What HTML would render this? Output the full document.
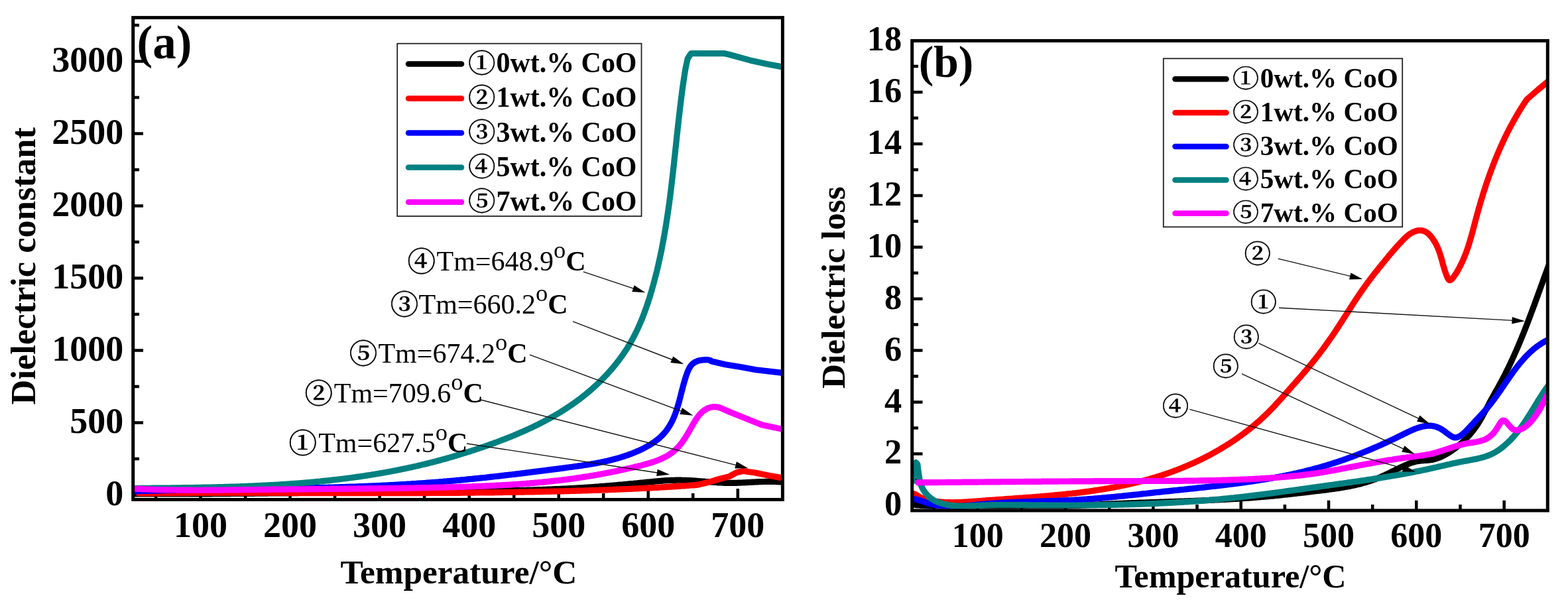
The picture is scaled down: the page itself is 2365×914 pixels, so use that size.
<!DOCTYPE html>
<html><head><meta charset="utf-8"><title>Dielectric properties</title>
<style>html,body{margin:0;padding:0;background:#fff;}svg{display:block;}</style>
</head><body>
<svg width="2365" height="914" viewBox="0 0 2365 914">
<rect width="2365" height="914" fill="#fff"/>
<path d="M203 746.5H216.0 M203 692.0H210.0 M203 637.5H216.0 M203 583.0H210.0 M203 528.5H216.0 M203 474.0H210.0 M203 419.5H216.0 M203 364.9H210.0 M203 310.4H216.0 M203 255.9H210.0 M203 201.4H216.0 M203 146.9H210.0 M203 92.4H216.0 M203 37.9H210.0 M235.1 751.5V744.0 M302.6 751.5V737.0 M370.1 751.5V744.0 M437.6 751.5V737.0 M505.1 751.5V744.0 M572.6 751.5V737.0 M640.1 751.5V744.0 M707.7 751.5V737.0 M775.2 751.5V744.0 M842.7 751.5V737.0 M910.2 751.5V744.0 M977.7 751.5V737.0 M1045.2 751.5V744.0 M1112.8 751.5V737.0" stroke="#000" stroke-width="4.5" fill="none"/>
<path d="M1378 762.3H1391.5 M1378 723.3H1385.0 M1378 684.4H1391.5 M1378 645.4H1385.0 M1378 606.5H1391.5 M1378 567.5H1385.0 M1378 528.6H1391.5 M1378 489.6H1385.0 M1378 450.7H1391.5 M1378 411.7H1385.0 M1378 372.8H1391.5 M1378 333.8H1385.0 M1378 294.9H1391.5 M1378 255.9H1385.0 M1378 217.0H1391.5 M1378 178.0H1385.0 M1378 139.1H1391.5 M1378 100.1H1385.0 M1408.6 768V761.0 M1474.7 768V754.8 M1540.9 768V761.0 M1607.1 768V754.8 M1673.2 768V761.0 M1739.4 768V754.8 M1805.5 768V761.0 M1871.7 768V754.8 M1937.9 768V761.0 M2004.0 768V754.8 M2070.2 768V761.0 M2136.3 768V754.8 M2202.5 768V761.0 M2268.7 768V754.8" stroke="#000" stroke-width="4.5" fill="none"/>
<g clip-path="url(#clipL)" fill="none" stroke-width="9.2" stroke-linejoin="round" stroke-linecap="round">
<path d="M201.0 745.0 203.0 745.0 205.0 745.0 207.0 745.0 209.0 745.0 211.0 745.0 213.0 745.0 215.0 745.0 217.0 745.0 219.0 745.0 221.0 745.0 223.0 745.0 225.1 745.0 227.1 745.0 229.1 745.0 231.1 745.0 233.1 745.0 235.1 745.0 237.1 745.0 239.1 745.0 241.1 745.0 243.1 745.0 245.1 745.0 247.1 745.0 249.1 745.0 251.1 745.0 253.1 745.0 255.1 745.0 257.1 745.0 259.1 745.0 261.1 745.0 263.1 745.0 265.1 745.0 267.1 745.0 269.1 745.0 271.1 745.0 273.1 745.0 275.1 745.0 277.1 745.0 279.2 745.0 281.2 744.9 283.2 744.9 285.2 744.9 287.2 744.9 289.2 744.9 291.2 744.9 293.2 744.9 295.2 744.9 297.2 744.9 299.2 744.9 300.1 744.9 301.2 744.9 303.2 744.8 305.2 744.8 307.2 744.8 309.2 744.8 311.2 744.8 313.2 744.8 315.2 744.8 317.2 744.8 319.2 744.8 321.2 744.7 323.2 744.7 325.2 744.7 327.2 744.7 329.2 744.7 331.2 744.7 333.2 744.7 335.2 744.7 337.2 744.6 339.2 744.6 341.2 744.6 343.2 744.6 345.2 744.6 347.3 744.6 349.3 744.5 351.3 744.5 353.3 744.5 355.3 744.5 357.3 744.5 359.3 744.5 361.3 744.5 363.3 744.4 365.3 744.4 367.3 744.4 369.3 744.4 371.3 744.4 373.3 744.3 375.3 744.3 377.3 744.3 379.3 744.3 381.3 744.3 383.3 744.3 385.3 744.2 387.3 744.2 389.3 744.2 391.3 744.2 393.3 744.2 395.3 744.1 397.3 744.1 399.3 744.1 400.1 744.1 401.3 744.1 403.3 744.1 405.3 744.0 407.3 744.0 409.3 744.0 411.3 744.0 413.3 744.0 415.3 743.9 417.3 743.9 419.3 743.9 421.3 743.9 423.3 743.9 425.3 743.8 427.3 743.8 429.3 743.8 431.3 743.8 433.3 743.8 435.3 743.7 437.3 743.7 439.3 743.7 441.3 743.7 443.3 743.6 445.3 743.6 447.3 743.6 449.4 743.6 451.4 743.5 453.4 743.5 455.4 743.5 457.4 743.5 459.4 743.5 461.4 743.4 463.4 743.4 465.4 743.4 467.4 743.4 469.4 743.3 471.4 743.3 473.4 743.3 475.4 743.3 477.4 743.2 479.4 743.2 481.4 743.2 483.4 743.2 485.4 743.2 487.4 743.1 489.4 743.1 491.4 743.1 493.4 743.1 495.4 743.0 497.4 743.0 499.4 743.0 501.4 743.0 503.4 742.9 505.4 742.9 507.4 742.9 509.4 742.9 511.4 742.8 513.4 742.8 515.4 742.8 517.4 742.8 519.4 742.7 521.4 742.7 523.4 742.7 525.4 742.7 527.4 742.7 529.4 742.6 530.1 742.6 531.4 742.6 533.4 742.6 535.4 742.6 537.4 742.5 539.4 742.5 541.4 742.5 543.4 742.5 545.4 742.4 547.4 742.4 549.4 742.4 551.4 742.4 553.4 742.3 555.4 742.3 557.4 742.3 559.4 742.3 561.4 742.2 563.4 742.2 565.4 742.2 567.4 742.2 569.4 742.1 571.4 742.1 573.4 742.1 575.4 742.1 577.4 742.1 579.4 742.0 581.4 742.0 583.4 742.0 585.4 742.0 587.4 741.9 589.4 741.9 591.4 741.9 593.4 741.9 595.4 741.8 597.4 741.8 599.4 741.8 600.1 741.8 601.4 741.8 603.4 741.8 605.4 741.7 607.4 741.7 609.4 741.7 611.4 741.7 613.4 741.6 615.4 741.6 617.4 741.6 619.4 741.6 621.4 741.6 623.4 741.5 625.4 741.5 627.4 741.5 629.4 741.5 631.4 741.5 633.4 741.4 635.4 741.4 637.4 741.4 639.4 741.4 641.4 741.4 643.4 741.3 645.4 741.3 647.4 741.3 649.4 741.3 651.4 741.3 653.4 741.2 655.4 741.2 657.4 741.2 659.4 741.2 660.0 741.2 661.4 741.2 663.4 741.1 665.4 741.1 667.4 741.1 669.4 741.1 671.4 741.1 673.4 741.0 675.4 741.0 677.4 741.0 679.4 741.0 681.4 741.0 683.4 741.0 685.4 740.9 687.4 740.9 689.4 740.9 691.4 740.9 693.4 740.9 695.4 740.8 697.4 740.8 699.4 740.8 701.4 740.8 703.4 740.8 705.4 740.7 707.4 740.7 709.4 740.7 711.4 740.7 713.4 740.7 715.4 740.6 717.4 740.6 719.4 740.6 719.9 740.6 721.4 740.6 723.4 740.5 725.4 740.5 727.4 740.5 729.4 740.5 731.4 740.4 733.4 740.4 735.4 740.4 737.4 740.4 739.4 740.3 741.4 740.3 743.4 740.3 745.4 740.2 747.4 740.2 749.4 740.2 751.4 740.2 753.4 740.1 755.4 740.1 757.4 740.0 759.4 740.0 759.9 740.0 761.4 740.0 763.4 739.9 765.4 739.9 767.4 739.9 769.4 739.8 771.4 739.8 773.4 739.7 775.4 739.7 777.4 739.6 779.4 739.6 781.3 739.6 783.3 739.5 785.3 739.5 787.3 739.4 789.3 739.4 791.3 739.3 793.3 739.3 795.3 739.2 797.3 739.1 799.3 739.1 801.3 739.0 801.8 739.0 803.3 739.0 805.3 738.9 807.3 738.8 809.3 738.8 811.3 738.7 813.3 738.7 815.3 738.6 817.3 738.5 819.3 738.4 821.3 738.4 823.3 738.3 825.3 738.2 827.3 738.1 829.3 738.1 831.3 738.0 833.3 737.9 835.3 737.8 837.3 737.7 839.3 737.7 841.3 737.6 843.3 737.5 845.3 737.4 847.3 737.3 849.3 737.2 849.8 737.2 851.3 737.1 853.3 737.0 855.3 736.9 857.3 736.8 859.3 736.7 861.3 736.6 863.3 736.5 865.3 736.4 867.3 736.3 869.3 736.1 871.3 736.0 873.3 735.9 875.3 735.8 877.3 735.7 879.3 735.5 881.3 735.4 883.3 735.3 885.3 735.2 887.3 735.0 889.3 734.9 891.3 734.8 893.3 734.6 895.3 734.5 897.3 734.3 899.3 734.2 899.7 734.2 901.3 734.0 903.3 733.9 905.3 733.7 907.3 733.6 909.3 733.4 911.3 733.3 913.3 733.1 915.3 732.9 917.3 732.8 919.3 732.6 921.2 732.4 923.2 732.3 925.2 732.1 927.2 731.9 929.2 731.8 931.2 731.6 933.2 731.4 935.2 731.2 937.2 731.0 939.2 730.9 941.2 730.7 941.9 730.6 943.2 730.5 945.2 730.3 947.2 730.1 949.2 729.9 951.2 729.7 953.2 729.5 955.2 729.4 957.2 729.2 959.2 729.0 961.2 728.8 963.2 728.6 965.2 728.4 967.2 728.2 969.2 728.0 971.2 727.8 973.2 727.6 975.2 727.4 977.2 727.2 979.2 727.0 981.2 726.8 983.2 726.6 984.7 726.5 985.2 726.4 987.2 726.2 989.2 726.0 991.2 725.8 993.2 725.6 995.2 725.5 997.2 725.3 999.2 725.1 1001.2 725.0 1001.7 724.9 1003.2 724.8 1005.2 724.7 1007.2 724.6 1009.2 724.5 1011.2 724.4 1013.2 724.4 1015.2 724.3 1017.2 724.3 1019.2 724.2 1020.1 724.2 1021.2 724.2 1023.2 724.2 1025.2 724.2 1027.2 724.2 1029.1 724.3 1031.1 724.3 1033.1 724.4 1035.1 724.4 1035.4 724.4 1037.1 724.5 1039.1 724.6 1041.1 724.7 1043.1 724.8 1045.1 724.9 1047.1 725.1 1049.1 725.2 1051.1 725.4 1053.1 725.5 1055.1 725.7 1055.2 725.7 1057.1 725.8 1059.1 726.0 1061.1 726.1 1063.1 726.3 1065.1 726.5 1067.1 726.6 1069.1 726.8 1071.1 726.9 1073.1 727.1 1075.1 727.2 1076.2 727.3 1077.1 727.4 1079.1 727.5 1081.1 727.7 1083.1 727.8 1085.1 727.9 1087.1 728.0 1089.1 728.1 1091.1 728.2 1093.1 728.3 1095.1 728.3 1097.1 728.4 1099.1 728.4 1100.1 728.4 1101.1 728.4 1103.1 728.4 1105.1 728.4 1107.1 728.4 1109.1 728.3 1111.1 728.3 1113.1 728.2 1115.1 728.2 1117.1 728.1 1119.1 728.0 1121.1 727.9 1123.1 727.8 1125.1 727.7 1127.1 727.6 1128.1 727.6 1129.1 727.5 1131.0 727.4 1133.0 727.3 1135.0 727.2 1137.0 727.1 1139.0 727.0 1141.0 726.9 1143.0 726.8 1145.0 726.7 1147.0 726.6 1149.0 726.6 1151.0 726.5 1153.0 726.5 1155.0 726.4 1157.0 726.4 1159.0 726.4 1161.0 726.4 1163.0 726.4 1165.0 726.4 1167.0 726.4 1169.0 726.5 1171.0 726.6 1173.0 726.7 1175.0 726.8 1177.0 726.9 1179.0 727.1 1181.0 727.3" stroke="#000000"/>
<path d="M209.0 744.0 211.0 744.0 213.0 744.0 215.0 744.0 217.0 743.9 219.0 743.9 221.0 743.9 223.0 743.9 225.0 743.9 227.0 743.9 229.0 743.8 231.0 743.8 233.0 743.8 235.0 743.8 237.0 743.8 239.0 743.8 241.0 743.8 243.0 743.7 245.0 743.7 247.0 743.7 249.0 743.7 251.0 743.7 253.0 743.7 255.1 743.7 257.1 743.7 259.1 743.7 261.1 743.7 263.1 743.6 265.1 743.6 267.1 743.6 269.1 743.6 271.1 743.6 273.1 743.6 275.1 743.6 277.1 743.6 279.1 743.6 281.1 743.6 283.1 743.6 285.1 743.6 287.1 743.5 289.1 743.5 291.1 743.5 293.1 743.5 295.1 743.5 297.1 743.5 299.1 743.5 300.0 743.5 301.1 743.5 303.1 743.5 305.1 743.5 307.1 743.5 309.1 743.5 311.1 743.5 313.1 743.5 315.1 743.5 317.1 743.5 319.1 743.5 321.1 743.5 323.1 743.5 325.1 743.5 327.1 743.5 329.2 743.5 331.2 743.5 333.2 743.5 335.2 743.5 337.2 743.5 339.2 743.5 341.2 743.5 343.2 743.5 345.2 743.5 347.2 743.5 349.2 743.5 351.2 743.5 353.2 743.5 355.2 743.5 357.2 743.5 359.2 743.5 361.2 743.5 363.2 743.5 365.2 743.5 367.2 743.5 369.2 743.5 371.2 743.5 373.2 743.5 375.2 743.5 377.2 743.5 379.2 743.5 381.2 743.5 383.2 743.5 385.2 743.5 387.2 743.5 389.2 743.5 391.2 743.5 393.3 743.5 395.3 743.5 397.3 743.5 399.3 743.5 400.0 743.5 401.3 743.5 403.3 743.5 405.3 743.5 407.3 743.5 409.3 743.5 411.3 743.5 413.3 743.5 415.3 743.5 417.3 743.5 419.3 743.5 421.3 743.5 423.3 743.5 425.3 743.5 427.3 743.5 429.3 743.5 431.3 743.5 433.3 743.5 435.3 743.5 437.3 743.6 439.3 743.6 441.3 743.6 443.3 743.6 445.3 743.6 447.3 743.6 449.3 743.6 451.4 743.6 453.4 743.6 455.4 743.6 457.4 743.6 459.4 743.6 461.4 743.6 463.4 743.6 465.4 743.6 467.4 743.6 469.4 743.6 471.4 743.6 473.4 743.6 475.4 743.6 477.4 743.6 479.4 743.6 481.4 743.6 483.4 743.6 485.4 743.6 487.4 743.6 489.4 743.6 491.4 743.7 493.4 743.7 495.4 743.7 497.4 743.7 499.4 743.7 501.4 743.7 503.4 743.7 505.5 743.7 507.5 743.7 509.5 743.7 511.5 743.7 513.5 743.7 515.5 743.7 517.5 743.7 519.5 743.7 521.5 743.7 523.5 743.7 525.5 743.7 527.5 743.7 529.5 743.7 530.0 743.7 531.5 743.7 533.5 743.7 535.5 743.7 537.5 743.7 539.5 743.7 541.5 743.7 543.5 743.7 545.5 743.7 547.5 743.7 549.5 743.7 551.5 743.7 553.5 743.7 555.5 743.7 557.5 743.7 559.5 743.7 561.6 743.7 563.6 743.7 565.6 743.7 567.6 743.7 569.6 743.7 571.6 743.7 573.6 743.7 575.6 743.7 577.6 743.7 579.6 743.7 581.6 743.7 583.6 743.7 585.6 743.7 587.6 743.7 589.6 743.7 591.6 743.7 593.6 743.7 595.6 743.7 597.6 743.7 599.6 743.7 601.6 743.7 603.6 743.7 605.6 743.7 607.6 743.7 609.6 743.7 611.6 743.7 613.6 743.7 615.6 743.7 617.7 743.7 619.7 743.6 621.7 743.6 623.7 743.6 625.7 743.6 627.7 743.6 629.7 743.6 631.7 743.6 633.7 743.6 635.7 743.6 637.7 743.6 639.7 743.6 641.7 743.6 643.7 743.6 645.7 743.6 647.7 743.5 649.7 743.5 651.7 743.5 653.7 743.5 655.7 743.5 657.7 743.5 659.7 743.5 660.0 743.5 661.7 743.5 663.7 743.5 665.7 743.5 667.7 743.4 669.7 743.4 671.7 743.4 673.7 743.4 675.7 743.4 677.8 743.4 679.8 743.4 681.8 743.3 683.8 743.3 685.8 743.3 687.8 743.3 689.8 743.3 691.8 743.3 693.8 743.3 695.8 743.2 697.8 743.2 699.8 743.2 701.8 743.2 703.8 743.2 705.8 743.2 707.8 743.1 709.8 743.1 711.8 743.1 713.8 743.1 715.8 743.1 717.8 743.0 719.8 743.0 721.8 743.0 723.8 743.0 725.8 743.0 727.8 742.9 729.8 742.9 731.8 742.9 733.8 742.9 735.8 742.8 737.8 742.8 739.8 742.8 741.8 742.8 743.9 742.8 745.9 742.7 747.9 742.7 749.9 742.7 751.9 742.6 753.9 742.6 755.9 742.6 757.9 742.6 759.9 742.5 760.0 742.5 761.9 742.5 763.9 742.5 765.9 742.4 767.9 742.4 769.9 742.4 771.9 742.4 773.9 742.3 775.9 742.3 777.9 742.3 779.9 742.2 781.9 742.2 783.9 742.2 785.9 742.1 787.9 742.1 789.9 742.1 791.9 742.0 793.9 742.0 795.9 742.0 797.9 741.9 799.9 741.9 801.9 741.8 803.9 741.8 805.9 741.8 807.9 741.7 809.9 741.7 811.9 741.6 813.9 741.6 815.9 741.6 817.9 741.5 819.9 741.5 821.9 741.4 823.9 741.4 825.9 741.3 828.0 741.3 830.0 741.3 832.0 741.2 834.0 741.2 836.0 741.1 838.0 741.1 840.0 741.0 842.0 741.0 844.0 740.9 845.0 740.9 846.0 740.9 848.0 740.8 850.0 740.8 852.0 740.7 854.0 740.7 856.0 740.6 858.0 740.6 860.0 740.5 862.0 740.5 864.0 740.4 866.0 740.4 868.0 740.3 870.0 740.2 872.0 740.2 874.0 740.1 876.0 740.1 878.0 740.0 880.0 740.0 882.0 739.9 884.0 739.8 886.0 739.8 888.0 739.7 890.0 739.6 892.0 739.6 894.0 739.5 896.0 739.5 898.0 739.4 900.0 739.3 900.0 739.3 902.0 739.3 904.0 739.2 906.0 739.1 908.0 739.0 910.0 739.0 912.0 738.9 914.0 738.8 916.0 738.8 918.0 738.7 920.0 738.6 922.0 738.5 924.0 738.5 926.0 738.4 928.0 738.3 930.0 738.2 932.0 738.1 934.0 738.1 936.0 738.0 938.0 737.9 940.0 737.8 942.0 737.7 942.0 737.7 944.0 737.6 946.0 737.5 948.0 737.5 950.0 737.4 952.0 737.3 954.0 737.2 956.0 737.1 958.0 737.0 960.0 736.9 962.0 736.8 964.0 736.7 966.0 736.6 968.0 736.5 970.0 736.4 972.0 736.3 974.0 736.2 976.0 736.1 978.0 736.0 980.0 735.9 982.0 735.8 984.0 735.7 984.6 735.7 986.0 735.6 988.0 735.5 990.0 735.4 992.0 735.3 994.0 735.1 996.0 735.0 998.0 734.9 1000.0 734.8 1002.0 734.7 1004.0 734.6 1006.0 734.4 1008.0 734.3 1010.0 734.2 1012.0 734.1 1014.0 733.9 1016.0 733.8 1018.0 733.7 1020.0 733.6 1022.0 733.4 1024.0 733.3 1026.0 733.2 1026.8 733.1 1028.0 733.0 1030.0 732.9 1032.0 732.8 1034.0 732.6 1036.0 732.5 1038.0 732.3 1040.0 732.2 1042.0 732.0 1044.0 731.9 1046.0 731.8 1048.0 731.6 1050.0 731.5 1052.0 731.3 L1052.0 731.3 1069.0 727.3 1083.0 723.0 1100.0 718.6 1111.4 712.5 1121.0 710.5 1139.0 713.0 1160.9 717.4 1181.0 721.0" stroke="#ff0000"/>
<path d="M201.0 741.0 203.0 740.9 205.0 740.9 207.0 740.8 208.9 740.7 210.9 740.7 212.9 740.6 214.9 740.5 216.9 740.5 218.9 740.4 220.9 740.4 222.9 740.3 224.8 740.3 226.8 740.2 228.8 740.1 229.8 740.1 230.8 740.1 232.8 740.0 234.8 740.0 236.8 739.9 238.8 739.9 240.8 739.8 242.8 739.8 244.8 739.7 246.7 739.7 248.7 739.6 250.7 739.6 252.7 739.5 254.7 739.5 256.7 739.4 258.7 739.4 260.7 739.4 262.7 739.3 264.7 739.3 266.7 739.2 268.7 739.2 270.7 739.1 272.7 739.1 274.7 739.1 276.7 739.0 278.7 739.0 280.7 738.9 282.7 738.9 284.7 738.9 286.7 738.8 288.7 738.8 290.7 738.8 292.7 738.7 294.7 738.7 296.7 738.6 298.7 738.6 299.5 738.6 300.7 738.6 302.7 738.5 304.7 738.5 306.7 738.5 308.7 738.4 310.7 738.4 312.7 738.4 314.7 738.3 316.7 738.3 318.7 738.3 320.7 738.3 322.7 738.2 324.7 738.2 326.7 738.2 328.7 738.1 330.7 738.1 332.7 738.1 334.7 738.0 336.7 738.0 338.7 738.0 340.7 738.0 342.7 737.9 344.7 737.9 346.7 737.9 348.7 737.8 350.7 737.8 352.8 737.8 354.8 737.8 356.8 737.7 358.8 737.7 360.8 737.7 362.8 737.6 364.8 737.6 366.8 737.6 368.8 737.6 370.8 737.5 372.8 737.5 374.8 737.5 376.8 737.4 378.8 737.4 380.8 737.4 382.9 737.4 384.9 737.3 386.9 737.3 388.9 737.3 390.9 737.2 392.9 737.2 394.9 737.2 396.9 737.2 398.9 737.1 399.6 737.1 400.9 737.1 402.9 737.1 405.0 737.0 407.0 737.0 409.0 737.0 411.0 736.9 413.0 736.9 415.0 736.9 417.0 736.8 419.0 736.8 421.0 736.8 423.0 736.7 425.1 736.7 427.1 736.7 429.1 736.6 431.1 736.6 433.1 736.6 435.1 736.5 437.1 736.5 439.1 736.5 441.1 736.4 443.2 736.4 445.2 736.4 447.2 736.3 449.2 736.3 451.2 736.2 453.2 736.2 455.2 736.2 457.2 736.1 459.2 736.1 461.3 736.0 463.3 736.0 465.3 735.9 467.3 735.9 469.3 735.9 471.3 735.8 473.3 735.8 475.3 735.7 477.3 735.7 479.4 735.6 481.4 735.6 483.4 735.5 485.4 735.5 487.4 735.4 489.4 735.4 491.4 735.3 493.4 735.3 495.4 735.2 497.5 735.2 499.5 735.1 501.5 735.0 503.5 735.0 505.5 734.9 507.5 734.9 508.0 734.9 509.5 734.8 511.5 734.8 513.5 734.7 515.6 734.6 517.6 734.6 519.6 734.5 521.6 734.4 523.6 734.4 525.6 734.3 527.6 734.2 529.6 734.2 531.6 734.1 533.6 734.0 535.7 734.0 537.7 733.9 539.7 733.8 541.7 733.7 543.7 733.7 545.7 733.6 547.7 733.5 549.7 733.4 551.7 733.3 553.7 733.3 555.8 733.2 557.8 733.1 559.8 733.0 561.8 732.9 563.8 732.8 565.8 732.8 567.8 732.7 569.8 732.6 571.8 732.5 573.8 732.4 575.8 732.3 577.9 732.2 579.9 732.1 581.9 732.0 583.9 731.9 585.9 731.8 587.9 731.7 589.9 731.6 591.9 731.5 593.9 731.4 595.9 731.3 597.9 731.2 599.9 731.1 600.4 731.0 601.9 730.9 603.9 730.8 606.0 730.7 608.0 730.6 610.0 730.5 612.0 730.4 614.0 730.2 616.0 730.1 618.0 730.0 620.0 729.9 622.0 729.7 624.0 729.6 626.0 729.5 628.0 729.4 630.0 729.2 632.0 729.1 634.0 728.9 636.0 728.8 638.0 728.7 640.0 728.5 642.0 728.4 644.0 728.2 646.0 728.1 648.0 727.9 650.0 727.8 652.0 727.6 654.0 727.5 656.0 727.3 658.0 727.2 660.0 727.0 660.4 727.0 662.0 726.9 664.0 726.7 666.0 726.5 668.0 726.4 670.0 726.2 672.0 726.0 674.0 725.9 676.0 725.7 678.0 725.5 680.0 725.3 682.0 725.2 684.0 725.0 686.0 724.8 688.0 724.6 690.0 724.4 692.0 724.3 694.0 724.1 696.0 723.9 698.0 723.7 700.0 723.5 702.0 723.3 704.0 723.1 706.0 722.9 708.0 722.7 710.0 722.5 712.0 722.3 713.9 722.1 715.9 721.9 717.9 721.7 719.9 721.5 721.9 721.3 723.9 721.1 725.9 720.9 726.1 720.9 727.9 720.7 729.9 720.5 731.9 720.3 733.9 720.1 735.8 719.8 737.8 719.6 739.8 719.4 741.8 719.2 743.8 719.0 745.8 718.7 747.8 718.5 749.8 718.3 751.7 718.1 753.7 717.9 755.7 717.6 757.7 717.4 759.7 717.2 761.7 716.9 763.7 716.7 765.6 716.5 767.6 716.2 769.6 716.0 771.6 715.8 773.6 715.5 775.6 715.3 777.5 715.1 779.5 714.8 781.5 714.6 783.5 714.4 785.5 714.1 787.4 713.9 789.4 713.6 791.4 713.4 791.6 713.4 793.4 713.1 795.3 712.9 797.3 712.7 799.3 712.4 801.3 712.2 803.2 711.9 805.2 711.7 807.2 711.4 809.2 711.2 811.1 710.9 813.1 710.7 815.1 710.4 817.1 710.2 819.0 709.9 821.0 709.7 823.0 709.4 825.0 709.2 826.9 708.9 828.9 708.7 830.9 708.4 832.8 708.1 834.8 707.9 836.8 707.6 838.7 707.4 840.7 707.1 842.7 706.9 844.6 706.6 846.6 706.3 848.6 706.1 850.5 705.8 852.5 705.6 854.5 705.3 856.4 705.0 856.6 705.0 858.4 704.8 860.3 704.5 862.3 704.3 864.3 704.0 866.2 703.7 868.2 703.5 870.1 703.2 872.1 702.9 874.1 702.6 876.0 702.4 878.0 702.1 879.9 701.8 881.9 701.5 883.8 701.2 885.8 700.9 887.7 700.6 889.7 700.3 891.6 700.0 893.6 699.6 895.6 699.3 897.5 698.9 899.5 698.6 901.4 698.2 903.4 697.8 905.3 697.5 905.3 697.5 907.3 697.1 909.2 696.7 911.1 696.3 913.1 695.8 915.0 695.4 917.0 695.0 918.9 694.5 920.9 694.0 922.8 693.5 924.8 693.0 926.7 692.5 928.6 692.0 930.6 691.5 932.5 690.9 934.5 690.3 936.4 689.7 938.3 689.1 939.2 688.9 940.3 688.5 942.2 687.9 944.2 687.2 946.1 686.6 948.0 685.9 950.0 685.2 951.9 684.4 953.8 683.7 954.8 683.3 955.8 682.9 957.7 682.2 959.6 681.3 961.5 680.5 963.5 679.7 965.4 678.8 967.3 677.9 969.2 677.0 971.0 676.1 971.1 676.0 972.9 675.1 974.7 674.1 976.5 673.1 978.3 672.1 980.1 671.0 981.9 670.0 983.6 668.8 985.3 667.7 986.4 666.9 987.0 666.6 988.6 665.4 990.2 664.2 991.8 662.9 993.3 661.7 994.8 660.4 996.3 659.0 997.7 657.7 998.7 656.7 999.1 656.3 1000.4 654.9 1001.7 653.5 1003.0 652.0 1004.2 650.5 1005.3 649.0 1006.5 647.4 1007.6 645.8 1008.1 645.0 1008.6 644.2 1009.6 642.6 1010.6 641.0 1011.6 639.3 1012.5 637.6 1013.4 635.8 1014.3 634.1 1015.1 632.3 1015.8 630.8 1015.9 630.5 1016.7 628.7 1017.4 626.8 1018.2 625.0 1018.9 623.1 1019.1 622.4 1019.5 621.2 1020.2 619.2 1020.8 617.3 1021.5 615.3 1022.1 613.4 1022.7 611.4 1023.2 609.4 1023.8 607.4 1024.4 605.3 1024.9 603.3 1025.4 601.3 1026.0 599.3 1026.2 598.5 1026.5 597.2 1027.0 595.2 1027.5 593.2 1028.0 591.1 1028.5 589.1 1029.1 587.1 1029.6 585.1 1030.1 583.1 1030.6 581.1 1031.2 579.2 1031.4 578.2 1031.7 577.2 1032.3 575.3 1032.8 573.4 1033.4 571.5 1034.0 569.6 1034.6 567.7 1035.2 565.9 1035.9 564.1 1036.5 562.4 1037.1 560.9 1037.2 560.6 1037.9 558.9 1038.7 557.3 1039.5 555.7 1040.3 554.1 1041.3 552.6 1042.4 551.2 1043.5 549.9 1044.3 549.1 1044.8 548.6 1046.3 547.5 1047.9 546.4 1049.7 545.5 1051.6 544.7 1053.8 544.0 1056.2 543.4 1057.8 543.2 1058.8 543.0 1061.6 542.8 1064.4 542.6 1067.1 542.7 1069.4 543.0 1071.2 543.4 1072.3 544.0 1072.5 544.8 L1072.5 544.8 1093.9 549.7 1118.5 553.8 1140.0 557.7 1181.0 562.5" stroke="#0000ff"/>
<path d="M201.0 736.5 203.0 736.5 205.0 736.5 207.0 736.4 209.1 736.4 211.1 736.4 213.1 736.4 215.1 736.4 217.1 736.3 219.1 736.3 221.1 736.3 223.2 736.3 225.2 736.3 227.2 736.3 229.2 736.2 231.2 736.2 233.2 736.2 235.2 736.2 237.2 736.2 239.2 736.1 241.3 736.1 243.3 736.1 245.3 736.1 247.3 736.1 249.3 736.0 251.3 736.0 253.3 736.0 255.3 736.0 257.3 736.0 259.3 735.9 261.4 735.9 263.4 735.9 265.4 735.9 267.4 735.8 269.4 735.8 271.4 735.8 273.4 735.8 275.4 735.7 277.4 735.7 279.4 735.7 281.4 735.6 283.4 735.6 285.4 735.6 287.4 735.6 289.4 735.5 290.5 735.5 291.5 735.5 293.5 735.5 295.5 735.4 297.5 735.4 299.5 735.4 301.5 735.3 303.5 735.3 305.5 735.2 307.5 735.2 309.5 735.2 311.5 735.1 313.5 735.1 315.5 735.0 317.5 735.0 319.5 735.0 321.5 734.9 323.5 734.9 325.5 734.8 327.5 734.8 329.5 734.7 331.5 734.7 333.5 734.6 335.5 734.6 337.5 734.5 339.5 734.4 341.5 734.4 343.5 734.3 345.5 734.3 347.5 734.2 349.5 734.2 351.5 734.1 353.5 734.0 355.5 734.0 357.5 733.9 359.5 733.8 361.5 733.8 363.5 733.7 365.5 733.6 367.5 733.5 369.5 733.5 371.4 733.4 373.4 733.3 375.4 733.2 377.4 733.1 379.4 733.1 381.4 733.0 383.4 732.9 385.4 732.8 387.4 732.7 389.4 732.6 390.4 732.6 391.4 732.5 393.4 732.4 395.4 732.3 397.4 732.2 399.3 732.1 401.3 732.0 403.3 731.9 405.3 731.8 407.3 731.7 409.3 731.6 411.3 731.5 413.3 731.4 415.3 731.3 417.3 731.1 419.2 731.0 421.2 730.9 423.2 730.8 425.2 730.6 427.2 730.5 429.2 730.4 431.2 730.3 433.1 730.1 435.1 730.0 437.1 729.8 439.1 729.7 441.1 729.6 443.1 729.4 445.1 729.3 447.0 729.1 449.0 729.0 451.0 728.8 453.0 728.7 455.0 728.5 457.0 728.3 458.9 728.2 460.1 728.1 460.9 728.0 462.9 727.8 464.9 727.7 466.9 727.5 468.9 727.3 470.8 727.1 472.8 727.0 474.8 726.8 476.8 726.6 478.8 726.4 480.7 726.2 482.7 726.0 484.7 725.8 486.7 725.6 488.6 725.4 490.6 725.2 492.6 725.0 494.6 724.8 496.6 724.6 498.5 724.4 499.8 724.2 500.5 724.1 502.5 723.9 504.5 723.7 506.4 723.5 508.4 723.2 510.4 723.0 512.4 722.8 514.3 722.5 516.3 722.3 518.3 722.0 520.3 721.8 522.2 721.5 524.2 721.3 526.2 721.0 528.1 720.8 530.1 720.5 532.1 720.2 534.1 720.0 536.0 719.7 538.0 719.4 540.0 719.1 541.8 718.9 541.9 718.9 543.9 718.6 545.9 718.3 547.8 718.0 549.8 717.7 551.8 717.4 553.7 717.1 555.7 716.8 557.7 716.5 559.6 716.2 561.6 715.8 563.6 715.5 565.5 715.2 567.5 714.9 569.5 714.5 571.4 714.2 573.4 713.9 575.4 713.5 577.3 713.2 579.3 712.8 581.3 712.5 583.2 712.1 584.1 712.0 585.2 711.8 587.1 711.4 589.1 711.1 591.1 710.7 593.0 710.3 595.0 709.9 597.0 709.6 598.9 709.2 600.9 708.8 602.8 708.4 604.8 708.0 606.8 707.6 608.7 707.2 610.7 706.8 612.6 706.4 614.6 705.9 616.5 705.5 618.5 705.1 620.5 704.7 622.4 704.2 624.4 703.8 626.3 703.4 626.3 703.4 628.3 702.9 630.2 702.5 632.2 702.0 634.1 701.6 636.1 701.1 638.0 700.6 640.0 700.2 642.0 699.7 643.9 699.2 645.9 698.7 647.8 698.2 649.8 697.8 651.7 697.3 653.7 696.8 655.6 696.3 657.6 695.7 659.5 695.2 661.5 694.7 663.4 694.2 665.4 693.7 667.3 693.1 668.7 692.8 669.3 692.6 671.2 692.1 673.1 691.5 675.1 691.0 677.0 690.4 679.0 689.9 680.9 689.3 682.9 688.7 684.8 688.2 686.8 687.6 688.7 687.0 690.6 686.4 692.6 685.8 694.5 685.2 696.5 684.6 696.9 684.5 698.4 684.0 700.3 683.4 702.3 682.8 704.2 682.2 706.1 681.6 708.1 681.0 710.0 680.4 711.9 679.7 713.8 679.1 715.8 678.5 717.7 677.8 719.6 677.2 721.5 676.6 723.5 675.9 725.4 675.3 726.5 674.9 727.3 674.6 729.2 674.0 731.1 673.3 733.0 672.6 734.9 672.0 736.8 671.3 738.7 670.6 740.6 669.9 742.5 669.2 744.4 668.6 746.3 667.9 748.2 667.2 750.1 666.5 752.0 665.8 753.9 665.1 755.7 664.3 757.6 663.6 759.5 662.9 759.8 662.8 761.4 662.2 763.2 661.4 765.1 660.7 767.0 660.0 768.8 659.2 770.7 658.5 772.5 657.7 774.4 657.0 776.2 656.2 778.1 655.4 779.9 654.6 781.8 653.9 783.6 653.1 785.4 652.3 787.2 651.5 789.1 650.7 790.9 649.9 792.1 649.3 792.7 649.1 794.5 648.2 796.3 647.4 798.1 646.6 799.9 645.8 801.7 644.9 803.5 644.1 805.3 643.2 807.1 642.3 808.9 641.5 810.7 640.6 812.4 639.7 814.2 638.8 816.0 637.9 817.7 637.0 819.5 636.1 821.2 635.2 823.0 634.3 824.7 633.3 826.5 632.4 828.2 631.5 829.9 630.5 830.0 630.5 831.7 629.5 833.4 628.6 835.1 627.6 836.8 626.6 838.5 625.6 840.2 624.6 841.9 623.6 843.6 622.6 845.3 621.6 846.9 620.5 848.6 619.5 850.3 618.4 851.9 617.4 853.6 616.3 855.2 615.2 856.9 614.1 858.5 613.0 859.7 612.2 860.2 611.9 861.8 610.8 863.4 609.7 865.0 608.6 866.6 607.4 868.3 606.3 869.9 605.1 871.4 603.9 873.0 602.8 874.6 601.6 876.2 600.4 877.8 599.2 879.3 597.9 880.9 596.7 882.4 595.5 884.0 594.2 885.5 592.9 887.0 591.7 888.6 590.4 890.1 589.1 890.6 588.6 891.6 587.8 893.1 586.5 894.6 585.1 896.1 583.8 897.6 582.5 899.0 581.1 900.5 579.7 902.0 578.3 903.4 577.0 904.9 575.6 906.3 574.1 907.7 572.7 909.1 571.3 910.5 569.8 911.9 568.4 913.3 566.9 914.7 565.5 916.1 564.0 917.4 562.5 918.8 561.0 920.1 559.5 921.4 558.0 921.4 558.0 922.8 556.5 924.1 554.9 925.4 553.4 926.6 551.8 927.9 550.3 929.2 548.7 930.4 547.1 931.7 545.5 932.9 543.9 934.1 542.3 935.3 540.7 936.5 539.1 937.7 537.5 938.8 535.8 940.0 534.2 941.1 532.5 942.2 530.9 943.3 529.2 944.4 527.6 945.5 525.9 946.6 524.2 947.6 522.5 948.7 520.8 949.3 519.8 949.7 519.1 950.7 517.4 951.7 515.6 952.7 513.9 953.6 512.2 954.6 510.4 955.5 508.7 956.4 506.9 957.3 505.2 958.2 503.4 959.1 501.6 960.0 499.8 960.8 498.1 961.7 496.3 962.5 494.5 963.3 492.7 964.1 490.9 964.9 489.0 965.7 487.2 966.5 485.4 967.2 483.6 968.0 481.7 968.7 479.9 969.2 478.6 969.5 478.0 970.2 476.2 970.9 474.3 971.6 472.5 972.3 470.6 973.0 468.7 973.6 466.9 974.3 465.0 975.0 463.1 975.6 461.2 976.3 459.3 976.9 457.4 977.5 455.5 978.1 453.6 978.8 451.7 979.4 449.8 980.0 447.9 980.1 447.3 980.6 446.0 981.1 444.1 981.7 442.1 982.3 440.2 982.9 438.3 983.4 436.3 984.0 434.4 984.5 432.5 985.1 430.5 985.6 428.6 986.1 426.6 986.7 424.7 987.2 422.7 987.7 420.8 988.2 418.8 988.4 418.1 988.7 416.9 989.2 414.9 989.7 412.9 990.2 411.0 990.7 409.0 991.2 407.0 991.6 405.1 992.1 403.1 992.6 401.1 993.0 399.1 993.5 397.2 993.9 395.2 994.3 393.2 994.8 391.2 995.2 389.2 995.6 387.3 995.8 386.5 996.1 385.3 996.5 383.3 996.9 381.3 997.3 379.3 997.7 377.3 998.1 375.4 998.5 373.4 998.9 371.4 999.2 369.4 999.6 367.4 1000.0 365.4 1000.4 363.5 1000.7 361.5 1001.1 359.5 1001.4 357.5 1001.5 357.2 1001.8 355.5 1002.1 353.5 1002.5 351.6 1002.8 349.6 1003.2 347.6 1003.5 345.6 1003.8 343.6 1004.2 341.6 1004.5 339.7 1004.8 337.7 1005.1 335.7 1005.4 333.7 1005.7 331.8 1006.0 329.8 1006.3 328.2 1006.3 327.8 1006.6 325.8 1006.9 323.9 1007.2 321.9 1007.5 319.9 1007.8 317.9 1008.1 315.9 1008.3 314.0 1008.6 312.0 1008.9 310.0 1009.2 308.1 1009.4 306.1 1009.5 305.5 1009.7 304.1 1009.9 302.1 1010.2 300.2 1010.5 298.2 1010.7 296.2 1011.0 294.2 1011.2 292.3 1011.5 290.3 1011.7 288.3 1012.0 286.4 1012.2 284.4 1012.4 282.4 1012.7 280.4 1012.9 278.5 1013.1 276.5 1013.4 274.5 1013.6 272.6 1013.8 270.6 1014.1 268.6 1014.3 266.6 1014.3 266.4 1014.5 264.7 1014.7 262.7 1015.0 260.7 1015.2 258.7 1015.4 256.8 1015.6 254.8 1015.8 252.8 1016.1 250.9 1016.3 248.9 1016.5 246.9 1016.7 244.9 1016.9 243.0 1017.1 241.0 1017.3 239.0 1017.6 237.0 1017.8 235.1 1018.0 233.1 1018.2 231.1 1018.4 229.1 1018.6 227.5 1018.6 227.2 1018.8 225.2 1019.0 223.2 1019.2 221.2 1019.5 219.3 1019.7 217.3 1019.9 215.3 1020.1 213.3 1020.3 211.4 1020.5 209.4 1020.7 207.4 1020.9 205.4 1021.1 203.4 1021.4 201.5 1021.6 199.5 1021.8 197.5 1022.0 195.5 1022.2 193.5 1022.4 191.5 1022.7 189.6 1022.8 188.4 1022.9 187.6 1023.1 185.6 1023.3 183.6 1023.5 181.6 1023.8 179.6 1024.0 177.6 1024.2 175.7 1024.4 173.7 1024.7 171.7 1024.9 169.7 1025.1 167.7 1025.4 165.7 1025.6 163.7 1025.8 161.7 1026.1 159.7 1026.3 157.7 1026.4 156.8 1026.6 155.7 1026.8 153.7 1027.0 151.7 1027.3 149.7 1027.5 147.7 1027.8 145.7 1028.1 143.7 1028.3 141.7 1028.6 139.7 1028.8 137.7 1029.1 135.7 1029.4 133.7 1029.6 131.7 1029.9 129.7 1030.2 127.7 L1030.2 127.7 1033.8 104.1 1037.2 88.4 1042.4 80.5 1093.2 80.7 1099.8 82.3 1131.3 90.9 1157.6 96.8 1181.0 101.0" stroke="#008080"/>
<path d="M201.0 737.0 203.0 737.1 205.0 737.2 207.0 737.3 209.0 737.4 211.0 737.5 212.0 737.5 213.0 737.6 215.0 737.7 217.0 737.8 219.0 737.8 221.0 737.9 223.0 738.0 225.0 738.1 227.0 738.1 229.0 738.2 231.0 738.3 233.0 738.3 235.0 738.4 237.0 738.5 239.0 738.5 241.0 738.6 243.0 738.6 245.0 738.7 246.9 738.7 248.9 738.8 250.9 738.8 252.9 738.8 254.9 738.9 256.9 738.9 258.9 739.0 260.9 739.0 262.9 739.0 264.9 739.0 266.9 739.1 268.9 739.1 270.9 739.1 272.9 739.1 274.9 739.2 276.9 739.2 278.9 739.2 280.9 739.2 282.9 739.2 284.9 739.2 287.0 739.2 289.0 739.2 291.0 739.3 293.0 739.3 295.0 739.3 297.0 739.3 299.0 739.3 299.9 739.3 301.0 739.3 303.0 739.3 305.0 739.3 307.0 739.2 309.0 739.2 311.0 739.2 313.0 739.2 315.0 739.2 317.0 739.2 319.0 739.2 321.0 739.2 323.0 739.2 325.0 739.2 327.0 739.1 329.0 739.1 331.0 739.1 333.0 739.1 335.0 739.1 337.0 739.1 339.0 739.0 341.0 739.0 343.0 739.0 345.0 739.0 347.0 739.0 349.0 738.9 351.0 738.9 353.0 738.9 355.0 738.9 357.0 738.8 359.0 738.8 361.0 738.8 363.0 738.8 365.0 738.7 367.0 738.7 369.0 738.7 371.0 738.7 373.1 738.7 375.1 738.6 377.1 738.6 379.1 738.6 381.1 738.6 383.1 738.5 385.1 738.5 387.1 738.5 389.1 738.5 389.9 738.4 391.1 738.4 393.1 738.4 395.1 738.4 397.1 738.4 399.1 738.3 401.1 738.3 403.1 738.3 405.1 738.3 407.1 738.3 409.1 738.2 411.1 738.2 413.1 738.2 415.1 738.2 417.1 738.2 419.1 738.1 421.1 738.1 423.2 738.1 425.2 738.1 427.2 738.1 429.2 738.0 431.2 738.0 433.2 738.0 435.2 738.0 437.2 738.0 439.2 737.9 441.2 737.9 443.2 737.9 445.2 737.9 447.2 737.9 449.2 737.9 451.2 737.8 453.2 737.8 455.2 737.8 457.2 737.8 459.2 737.8 461.2 737.8 463.2 737.7 465.2 737.7 467.2 737.7 469.2 737.7 471.3 737.7 473.3 737.6 475.3 737.6 477.3 737.6 479.3 737.6 480.1 737.6 481.3 737.6 483.3 737.6 485.3 737.5 487.3 737.5 489.3 737.5 491.3 737.5 493.3 737.5 495.3 737.5 497.3 737.4 499.3 737.4 501.3 737.4 503.3 737.4 505.3 737.4 507.3 737.4 509.3 737.3 511.3 737.3 513.3 737.3 515.3 737.3 517.3 737.3 519.4 737.3 521.4 737.2 523.4 737.2 525.4 737.2 527.4 737.2 529.4 737.2 531.4 737.1 533.4 737.1 535.4 737.1 537.4 737.1 539.4 737.1 541.4 737.0 543.4 737.0 545.4 737.0 547.4 737.0 549.4 737.0 551.4 736.9 553.4 736.9 555.4 736.9 557.4 736.9 559.4 736.9 561.4 736.8 563.4 736.8 565.4 736.8 567.4 736.8 569.4 736.7 570.1 736.7 571.4 736.7 573.4 736.7 575.4 736.7 577.4 736.6 579.4 736.6 581.4 736.6 583.5 736.6 585.5 736.5 587.5 736.5 589.5 736.5 591.5 736.5 593.5 736.4 595.5 736.4 597.5 736.4 599.5 736.3 601.5 736.3 603.5 736.3 605.5 736.3 607.5 736.2 609.5 736.2 611.5 736.2 613.5 736.1 615.5 736.1 617.5 736.1 619.5 736.0 621.5 736.0 623.5 736.0 625.5 735.9 627.5 735.9 629.5 735.9 631.5 735.8 633.5 735.8 635.5 735.7 637.5 735.7 639.5 735.7 641.5 735.6 643.5 735.6 645.5 735.6 647.5 735.5 649.5 735.5 651.5 735.4 653.5 735.4 655.5 735.3 657.5 735.3 659.5 735.3 660.1 735.2 661.5 735.2 663.5 735.2 665.5 735.1 667.5 735.1 669.5 735.0 671.5 735.0 673.5 734.9 675.5 734.9 677.5 734.8 679.5 734.8 681.5 734.7 683.5 734.7 685.5 734.6 687.5 734.6 689.5 734.5 691.5 734.5 693.4 734.4 695.4 734.3 697.4 734.3 699.4 734.2 701.4 734.2 703.4 734.1 705.4 734.0 707.4 734.0 709.4 733.9 711.4 733.8 713.4 733.7 715.4 733.7 717.4 733.6 719.4 733.5 721.4 733.4 723.4 733.4 725.4 733.3 727.4 733.2 729.4 733.1 731.4 733.0 733.4 732.9 735.4 732.9 737.4 732.8 739.4 732.7 741.3 732.6 743.3 732.5 745.3 732.4 747.3 732.3 749.3 732.2 751.3 732.1 753.3 732.0 755.3 731.9 757.3 731.8 758.4 731.7 759.3 731.6 761.3 731.5 763.3 731.4 765.3 731.3 767.3 731.2 769.2 731.0 771.2 730.9 773.2 730.8 775.2 730.7 777.2 730.5 779.2 730.4 781.2 730.3 783.2 730.1 785.2 730.0 787.2 729.8 789.2 729.7 791.2 729.5 793.1 729.4 795.1 729.2 797.1 729.1 799.1 728.9 801.1 728.7 803.1 728.6 805.1 728.4 807.1 728.2 809.1 728.0 811.0 727.9 813.0 727.7 815.0 727.5 817.0 727.3 819.0 727.1 821.0 726.9 823.0 726.7 823.8 726.6 825.0 726.5 826.9 726.3 828.9 726.1 830.9 725.9 832.9 725.7 834.9 725.4 836.9 725.2 838.9 725.0 840.9 724.8 842.8 724.5 844.8 724.3 846.8 724.1 848.8 723.8 850.8 723.6 852.8 723.3 854.7 723.1 856.7 722.8 858.7 722.6 860.7 722.3 862.7 722.0 864.7 721.8 866.7 721.5 868.6 721.2 870.6 720.9 872.6 720.6 874.6 720.3 876.6 720.0 878.5 719.7 880.5 719.4 882.5 719.1 884.5 718.8 886.5 718.5 888.5 718.2 889.6 718.0 890.4 717.8 892.4 717.5 894.4 717.2 896.4 716.8 898.4 716.5 900.3 716.2 902.3 715.8 904.3 715.4 906.3 715.1 908.3 714.7 910.2 714.4 912.2 714.0 914.2 713.6 916.2 713.2 918.1 712.8 920.1 712.5 922.1 712.1 924.1 711.7 926.1 711.3 928.0 710.9 930.0 710.5 932.0 710.0 934.0 709.6 935.9 709.2 937.9 708.8 939.8 708.4 939.9 708.4 941.9 707.9 943.8 707.5 945.8 707.0 947.8 706.6 949.8 706.1 951.7 705.7 953.7 705.2 955.7 704.8 957.6 704.3 959.6 703.8 961.6 703.3 963.6 702.9 963.6 702.8 965.5 702.4 967.5 701.9 969.5 701.3 971.4 700.8 973.4 700.3 975.3 699.8 977.3 699.2 979.2 698.6 981.2 698.0 983.1 697.4 985.0 696.8 986.9 696.2 986.9 696.2 988.8 695.5 990.6 694.8 992.5 694.1 994.3 693.3 996.1 692.6 997.9 691.8 999.7 691.0 1001.4 690.1 1003.2 689.2 1004.4 688.6 1004.9 688.3 1006.5 687.3 1008.2 686.4 1009.8 685.3 1011.4 684.3 1013.0 683.1 1014.5 682.0 1016.0 680.8 1017.4 679.6 1018.9 678.3 1018.9 678.3 1020.3 677.0 1021.6 675.6 1023.0 674.2 1024.3 672.7 1025.5 671.2 1026.8 669.7 1028.0 668.2 1029.2 666.6 1030.3 664.9 1031.5 663.3 1032.5 661.8 1032.6 661.6 1033.7 659.9 1034.8 658.1 1035.9 656.4 1037.0 654.6 1038.0 652.8 1039.1 651.0 1040.1 649.2 1040.8 648.0 1041.2 647.3 1042.2 645.5 1043.3 643.6 1044.3 641.8 1045.3 639.9 1046.4 638.1 1047.5 636.3 1048.5 634.6 1048.6 634.5 1049.7 632.8 1050.8 631.1 1052.0 629.4 1053.2 627.8 1054.4 626.2 1055.6 624.9 1055.7 624.7 1057.1 623.3 1058.4 622.0 1059.8 620.7 1061.3 619.5 1062.8 618.4 1063.5 618.0 1064.4 617.4 1066.1 616.5 1067.8 615.7 1069.6 615.1 1071.4 614.5 1073.2 614.1 1075.1 613.9 1075.6 613.8 1077.0 613.7 1079.0 613.7 1080.9 613.9 1082.9 614.2 1084.9 614.7 1087.0 615.4 1089.0 616.2 L1089.0 616.2 1102.1 622.0 1118.5 628.5 1148.9 640.8 1181.0 647.5" stroke="#ff00ff"/>
</g>
<g clip-path="url(#clipR)" fill="none" stroke-width="9.2" stroke-linejoin="round" stroke-linecap="round">
<path d="M1375.5 761.0 1377.5 761.2 1379.5 761.4 1381.5 761.6 1383.5 761.8 1385.5 762.0 1387.5 762.1 1389.5 762.3 1390.1 762.4 1391.5 762.5 1393.4 762.6 1395.4 762.8 1397.4 763.0 1399.4 763.1 1401.4 763.3 1403.4 763.4 1405.4 763.6 1407.4 763.7 1409.4 763.8 1411.4 764.0 1413.4 764.1 1415.4 764.2 1417.4 764.3 1419.4 764.4 1420.0 764.5 1421.4 764.5 1423.4 764.7 1425.4 764.8 1427.4 764.9 1429.4 764.9 1431.4 765.0 1433.4 765.1 1435.4 765.2 1437.4 765.3 1439.4 765.4 1441.4 765.5 1443.4 765.5 1445.3 765.6 1447.3 765.7 1449.3 765.7 1451.3 765.8 1453.3 765.8 1455.3 765.9 1457.3 765.9 1459.3 766.0 1461.3 766.0 1463.3 766.1 1465.3 766.1 1467.3 766.1 1469.3 766.2 1471.3 766.2 1473.3 766.2 1475.3 766.2 1477.3 766.3 1479.3 766.3 1481.3 766.3 1483.3 766.3 1485.3 766.3 1487.3 766.3 1489.3 766.3 1491.3 766.3 1493.3 766.3 1495.3 766.3 1497.3 766.3 1499.3 766.3 1501.3 766.3 1503.3 766.3 1505.3 766.3 1507.3 766.3 1509.3 766.2 1511.3 766.2 1513.3 766.2 1515.3 766.2 1517.3 766.1 1519.3 766.1 1521.3 766.1 1523.3 766.0 1525.3 766.0 1527.3 766.0 1529.3 765.9 1531.3 765.9 1533.3 765.8 1535.3 765.8 1537.3 765.7 1539.3 765.7 1541.3 765.6 1543.3 765.6 1545.3 765.5 1547.3 765.5 1549.3 765.4 1551.3 765.4 1553.3 765.3 1555.3 765.2 1557.3 765.2 1559.3 765.1 1561.3 765.0 1563.3 765.0 1565.3 764.9 1567.3 764.8 1569.3 764.8 1571.3 764.7 1573.3 764.6 1575.3 764.5 1577.3 764.5 1579.3 764.4 1581.3 764.3 1583.3 764.2 1585.3 764.1 1587.3 764.1 1589.3 764.0 1591.3 763.9 1593.3 763.8 1595.3 763.7 1597.3 763.6 1599.3 763.5 1599.9 763.5 1601.3 763.5 1603.3 763.4 1605.3 763.3 1607.3 763.2 1609.3 763.1 1611.3 763.0 1613.3 762.9 1615.3 762.8 1617.3 762.7 1619.3 762.6 1621.3 762.6 1623.3 762.5 1625.3 762.4 1627.3 762.3 1629.3 762.2 1631.3 762.1 1633.3 762.0 1635.3 761.9 1637.3 761.8 1639.3 761.7 1641.3 761.6 1643.3 761.5 1645.3 761.4 1647.3 761.3 1649.3 761.2 1651.3 761.1 1653.3 761.0 1655.3 761.0 1657.3 760.9 1659.3 760.8 1661.3 760.7 1663.3 760.6 1665.3 760.5 1667.3 760.4 1669.3 760.3 1671.3 760.2 1673.3 760.1 1675.3 760.0 1677.3 759.9 1679.3 759.9 1681.3 759.8 1683.3 759.7 1685.3 759.6 1687.3 759.5 1689.3 759.4 1691.3 759.3 1693.3 759.3 1695.3 759.2 1697.3 759.1 1699.3 759.0 1700.0 759.0 1701.3 758.9 1703.3 758.8 1705.3 758.8 1707.3 758.7 1709.4 758.6 1711.4 758.5 1713.4 758.5 1715.4 758.4 1717.4 758.3 1719.4 758.2 1721.4 758.2 1723.4 758.1 1725.4 758.0 1727.4 758.0 1729.4 757.9 1731.4 757.8 1733.4 757.8 1735.4 757.7 1737.4 757.6 1739.4 757.5 1741.4 757.5 1743.4 757.4 1745.4 757.3 1747.4 757.3 1749.4 757.2 1751.4 757.1 1753.4 757.1 1755.4 757.0 1757.3 756.9 1759.3 756.9 1760.1 756.8 1761.3 756.8 1763.3 756.7 1765.3 756.7 1767.3 756.6 1769.3 756.5 1771.3 756.5 1773.3 756.4 1775.3 756.3 1777.3 756.3 1779.3 756.2 1781.3 756.1 1783.3 756.0 1785.3 756.0 1787.3 755.9 1789.3 755.8 1791.3 755.8 1793.3 755.7 1795.3 755.6 1797.3 755.5 1799.3 755.5 1801.3 755.4 1803.3 755.3 1805.3 755.2 1807.3 755.1 1809.3 755.1 1810.1 755.0 1811.3 755.0 1813.3 754.9 1815.3 754.8 1817.3 754.7 1819.3 754.6 1821.3 754.6 1823.3 754.5 1825.3 754.4 1827.3 754.3 1829.3 754.2 1831.3 754.1 1833.3 754.0 1835.3 753.9 1837.3 753.8 1839.3 753.7 1841.3 753.6 1843.3 753.5 1845.3 753.4 1847.3 753.3 1849.3 753.2 1851.3 753.1 1853.3 753.0 1855.2 752.8 1857.2 752.7 1859.2 752.6 1861.2 752.5 1861.5 752.5 1863.2 752.4 1865.2 752.3 1867.2 752.1 1869.2 752.0 1871.2 751.9 1873.2 751.7 1875.2 751.6 1877.2 751.5 1879.2 751.3 1881.2 751.2 1883.2 751.1 1885.2 750.9 1887.2 750.8 1889.2 750.6 1891.2 750.5 1893.2 750.3 1895.1 750.1 1897.1 750.0 1899.1 749.8 1901.1 749.7 1903.1 749.5 1905.1 749.3 1907.1 749.2 1909.1 749.0 1911.1 748.8 1912.0 748.7 1913.1 748.6 1915.1 748.4 1917.1 748.2 1919.1 748.1 1921.1 747.9 1923.1 747.7 1925.0 747.5 1927.0 747.3 1929.0 747.1 1931.0 746.9 1933.0 746.7 1935.0 746.4 1937.0 746.2 1939.0 746.0 1941.0 745.8 1943.0 745.6 1944.9 745.4 1946.9 745.2 1948.9 744.9 1950.9 744.7 1952.9 744.5 1954.9 744.3 1956.9 744.0 1958.8 743.8 1960.8 743.6 1962.8 743.3 1963.1 743.3 1964.8 743.1 1966.8 742.9 1968.8 742.6 1970.7 742.4 1972.7 742.2 1974.7 741.9 1976.7 741.7 1978.7 741.5 1980.6 741.2 1982.6 741.0 1984.6 740.7 1986.5 740.5 1988.5 740.3 1989.9 740.1 1990.5 740.0 1992.5 739.8 1994.4 739.5 1996.4 739.3 1998.4 739.1 2000.3 738.8 2002.3 738.6 2004.3 738.3 2006.2 738.0 2008.2 737.8 2010.1 737.5 2012.1 737.3 2014.1 737.0 2016.0 736.7 2018.0 736.4 2019.9 736.1 2021.9 735.8 2023.8 735.5 2025.8 735.2 2027.7 734.8 2029.7 734.5 2031.6 734.1 2033.5 733.8 2035.4 733.4 2035.5 733.4 2037.4 733.0 2039.4 732.6 2041.3 732.2 2043.2 731.8 2045.2 731.4 2047.1 730.9 2049.0 730.4 2051.0 730.0 2052.9 729.5 2054.8 728.9 2056.7 728.4 2058.7 727.9 2060.6 727.3 2062.5 726.7 2064.4 726.1 2066.3 725.5 2068.2 724.9 2070.1 724.2 2072.0 723.5 2074.0 722.8 2075.9 722.1 2077.8 721.3 2079.7 720.6 2081.4 719.8 2081.6 719.8 2083.4 718.9 2085.3 718.1 2087.2 717.2 2089.1 716.4 2091.0 715.5 2092.9 714.6 2094.8 713.7 2096.7 712.7 2098.5 711.8 2100.4 710.9 2102.3 710.0 2104.2 709.0 2105.3 708.4 2106.0 708.1 2107.9 707.2 2109.8 706.3 2111.6 705.4 2113.5 704.5 2115.4 703.6 2117.2 702.8 2119.1 701.9 2121.0 701.1 2121.3 701.0 2122.8 700.3 2124.7 699.6 2126.5 698.8 2128.4 698.2 2130.3 697.5 2132.1 697.0 2134.0 696.4 2135.8 696.0 2136.5 695.9 2137.7 695.6 2139.5 695.4 2141.4 695.1 2143.2 694.9 2145.1 694.8 2146.9 694.6 2148.8 694.5 2150.6 694.4 2152.4 694.3 2154.3 694.1 2156.1 693.9 2158.0 693.7 2159.2 693.5 2159.8 693.4 2161.7 693.0 2163.5 692.5 2165.3 692.0 2167.2 691.4 2169.0 690.8 2170.8 690.1 2172.6 689.4 2174.5 688.6 2176.1 687.8 2176.3 687.7 2178.1 686.8 2179.9 685.8 2181.6 684.9 2183.4 683.8 2185.2 682.7 2186.9 681.6 2188.7 680.5 2190.4 679.3 2192.1 678.1 2193.8 676.8 2194.8 676.1 2195.4 675.6 2197.1 674.3 2198.7 673.0 2200.4 671.6 2202.0 670.3 2203.6 668.9 2205.1 667.5 2206.7 666.1 2208.2 664.6 2209.5 663.3 2209.7 663.2 2211.1 661.7 2212.6 660.2 2214.0 658.7 2215.4 657.2 2216.8 655.6 2218.1 654.1 2219.4 652.5 2220.7 651.0 2221.9 649.4 2223.1 647.8 2223.7 647.1 2224.3 646.2 2225.5 644.6 2226.6 643.0 2227.7 641.4 2228.8 639.8 2229.8 638.1 2230.8 636.5 2231.9 634.8 2232.8 633.2 2233.8 631.5 2234.8 629.9 2235.7 628.2 2236.0 627.6 2236.6 626.5 2237.5 624.8 2238.5 623.1 2239.4 621.4 2240.3 619.7 2241.2 618.0 2242.1 616.3 2243.0 614.6 2243.9 612.9 2244.8 611.1 2245.7 609.4 2246.6 607.7 2246.9 607.1 2247.5 605.9 2248.5 604.2 2249.4 602.4 2250.4 600.7 2251.4 598.9 2252.4 597.1 2253.3 595.4 2254.3 593.6 2255.3 591.8 2255.8 591.0 2256.3 590.1 2257.3 588.3 2258.3 586.5 2259.3 584.7 2260.3 582.9 2261.2 581.2 2262.2 579.4 2263.2 577.6 2264.0 576.1 2264.2 575.8 2265.1 574.0 2266.1 572.2 2267.0 570.4 2268.0 568.6 2268.9 566.8 2269.8 565.0 2270.7 563.2 2271.6 561.4 2272.5 559.6 2273.1 558.4 2273.4 557.8 2274.3 556.0 2275.2 554.2 2276.1 552.4 2276.9 550.6 2277.8 548.7 2278.7 546.9 2279.5 545.1 2280.4 543.3 2281.2 541.5 2282.0 539.7 2282.5 538.6 2282.9 537.8 2283.7 536.0 2284.5 534.2 2285.3 532.4 2286.1 530.6 2286.9 528.7 2287.7 526.9 2288.5 525.1 2289.3 523.2 2290.1 521.4 2290.9 519.6 2291.1 518.9 2291.6 517.7 2292.4 515.9 2293.2 514.1 2293.9 512.2 2294.7 510.4 2295.4 508.5 2296.2 506.7 2296.9 504.9 2297.7 503.0 2298.4 501.2 2299.1 499.4 2299.1 499.3 2299.9 497.5 2300.6 495.6 2301.3 493.8 2302.1 491.9 2302.8 490.1 2303.5 488.2 2304.2 486.4 2304.8 484.7 2304.9 484.5 2305.6 482.7 2306.3 480.8 2307.0 478.9 2307.7 477.1 2308.4 475.2 2309.1 473.4 2309.8 471.5 2310.3 470.2 2310.5 469.6 2311.2 467.8 2311.9 465.9 2312.6 464.0 2313.3 462.2 2314.0 460.3 2314.7 458.4 2315.4 456.6 2316.0 454.7 2316.7 452.8 2317.4 450.9 2318.1 449.1 2318.8 447.2 2319.5 445.3 2320.1 443.4 2320.8 441.6 2321.5 439.7 2322.2 437.8 2322.3 437.4 2322.9 435.9 2323.6 434.0 2324.2 432.1 2324.9 430.3 2325.6 428.4 2326.3 426.5 2327.0 424.6 2327.7 422.7 2328.3 420.8 2329.0 418.9 2329.7 417.0 2330.4 415.2 2331.1 413.3 2331.8 411.4 2332.5 409.5 2333.2 407.6 2333.9 405.7 2334.6 403.8 2335.3 401.9 2336.0 400.0" stroke="#000000"/>
<path d="M1375.5 745.0 1377.3 744.6 1379.1 745.0 1379.1 745.0 1381.0 745.8 1382.8 746.9 1384.6 748.1 1385.5 748.7 1386.5 749.2 1388.3 750.2 1390.2 751.0 1392.1 751.8 1393.9 752.4 1395.8 752.9 1396.9 753.2 1397.7 753.4 1399.6 753.9 1401.5 754.4 1403.4 754.8 1405.3 755.1 1407.2 755.5 1409.1 755.8 1410.3 756.0 1411.0 756.1 1413.0 756.4 1414.9 756.6 1416.8 756.8 1418.8 757.0 1420.7 757.2 1422.7 757.3 1424.6 757.5 1426.6 757.6 1428.5 757.6 1430.5 757.7 1432.5 757.7 1434.4 757.8 1436.4 757.8 1438.4 757.8 1440.4 757.7 1442.3 757.7 1444.3 757.6 1446.3 757.6 1448.3 757.5 1449.5 757.5 1450.3 757.4 1452.3 757.3 1454.3 757.2 1456.3 757.1 1458.3 757.0 1460.3 756.8 1462.3 756.7 1464.3 756.6 1466.3 756.4 1468.3 756.3 1470.3 756.1 1472.3 756.0 1474.3 755.8 1476.3 755.7 1477.9 755.5 1478.3 755.5 1480.3 755.3 1482.4 755.2 1484.4 755.0 1486.4 754.9 1488.4 754.7 1490.4 754.6 1492.4 754.4 1494.4 754.3 1496.4 754.2 1498.4 754.0 1500.4 753.9 1502.5 753.7 1504.5 753.6 1506.5 753.4 1508.5 753.3 1510.5 753.2 1512.5 753.0 1514.5 752.9 1516.5 752.7 1518.5 752.6 1520.6 752.4 1522.6 752.3 1524.6 752.2 1526.6 752.0 1528.6 751.9 1530.6 751.7 1532.6 751.6 1534.6 751.4 1536.6 751.3 1538.6 751.2 1540.0 751.1 1540.7 751.0 1542.7 750.9 1544.7 750.7 1546.7 750.6 1548.7 750.4 1550.7 750.3 1552.7 750.1 1554.7 750.0 1556.7 749.8 1558.7 749.7 1560.7 749.5 1562.7 749.3 1564.7 749.2 1566.7 749.0 1568.8 748.9 1570.8 748.7 1572.8 748.5 1574.8 748.4 1576.8 748.2 1578.8 748.0 1580.8 747.8 1582.8 747.7 1584.8 747.5 1586.8 747.3 1588.8 747.1 1590.8 746.9 1592.8 746.7 1594.8 746.6 1596.8 746.4 1598.8 746.2 1600.8 746.0 1601.7 745.9 1602.8 745.8 1604.8 745.6 1606.7 745.4 1608.7 745.1 1610.7 744.9 1612.7 744.7 1614.7 744.5 1616.7 744.3 1618.7 744.0 1620.7 743.8 1622.7 743.6 1624.7 743.3 1626.6 743.1 1628.6 742.9 1630.6 742.6 1632.6 742.4 1634.6 742.1 1636.6 741.9 1638.5 741.6 1640.5 741.3 1642.5 741.1 1644.5 740.8 1646.5 740.5 1648.4 740.2 1650.4 739.9 1652.4 739.6 1654.3 739.3 1656.3 739.0 1658.3 738.7 1660.3 738.4 1662.2 738.1 1662.8 738.0 1664.2 737.8 1666.2 737.4 1668.1 737.1 1670.1 736.8 1672.0 736.4 1674.0 736.1 1676.0 735.7 1677.9 735.4 1679.9 735.0 1681.8 734.7 1683.8 734.3 1685.7 733.9 1687.7 733.5 1689.6 733.1 1691.6 732.7 1693.5 732.3 1695.5 731.9 1697.4 731.5 1699.4 731.1 1701.3 730.7 1703.3 730.2 1705.2 729.8 1707.1 729.3 1708.5 729.0 1709.1 728.9 1711.0 728.4 1712.9 728.0 1714.9 727.5 1716.8 727.0 1718.7 726.5 1720.7 726.0 1722.6 725.5 1724.5 725.0 1726.4 724.5 1728.3 724.0 1730.3 723.5 1732.2 722.9 1734.1 722.4 1736.0 721.8 1737.9 721.3 1738.9 721.0 1739.8 720.7 1741.7 720.2 1743.6 719.6 1745.5 719.0 1747.4 718.4 1749.3 717.8 1751.2 717.2 1753.1 716.6 1755.0 715.9 1756.9 715.3 1758.8 714.7 1760.7 714.0 1762.6 713.4 1764.5 712.7 1766.4 712.0 1768.2 711.3 1769.5 710.9 1770.1 710.6 1772.0 709.9 1773.9 709.2 1775.8 708.5 1777.6 707.8 1779.5 707.0 1781.4 706.3 1783.2 705.6 1785.1 704.8 1786.9 704.0 1788.8 703.2 1790.6 702.5 1792.5 701.7 1794.3 700.9 1796.1 700.1 1796.2 700.0 1798.0 699.2 1799.9 698.4 1801.7 697.6 1803.5 696.7 1805.3 695.9 1807.2 695.0 1809.0 694.1 1810.8 693.3 1812.6 692.4 1814.4 691.5 1816.2 690.6 1818.0 689.7 1819.8 688.7 1821.6 687.8 1822.7 687.2 1823.4 686.9 1825.2 685.9 1826.9 685.0 1828.7 684.0 1830.5 683.0 1832.2 682.1 1834.0 681.1 1835.7 680.1 1837.5 679.1 1839.2 678.1 1841.0 677.0 1842.7 676.0 1844.4 675.0 1846.1 673.9 1847.8 672.9 1849.1 672.1 1849.6 671.8 1851.3 670.7 1853.0 669.7 1854.6 668.6 1856.3 667.5 1858.0 666.4 1859.7 665.3 1861.3 664.2 1863.0 663.0 1864.6 661.9 1866.3 660.8 1867.9 659.6 1869.5 658.4 1871.2 657.3 1872.8 656.1 1874.4 654.9 1874.9 654.6 1876.0 653.7 1877.6 652.5 1879.2 651.3 1880.8 650.1 1882.3 648.9 1883.9 647.7 1885.4 646.4 1887.0 645.2 1888.5 643.9 1890.1 642.7 1891.6 641.4 1892.8 640.4 1893.1 640.1 1894.6 638.8 1896.1 637.5 1897.6 636.2 1899.1 634.9 1900.6 633.6 1902.0 632.3 1903.5 630.9 1904.9 629.6 1906.4 628.3 1907.8 626.9 1909.2 625.5 1910.0 624.8 1910.6 624.2 1912.0 622.8 1913.4 621.4 1914.8 620.0 1916.2 618.6 1917.6 617.2 1918.9 615.8 1920.3 614.4 1921.6 612.9 1923.0 611.5 1924.3 610.0 1925.7 608.6 1927.0 607.1 1927.7 606.3 1928.3 605.7 1929.7 604.2 1931.0 602.7 1932.3 601.3 1933.7 599.8 1935.0 598.3 1936.3 596.8 1937.6 595.3 1939.0 593.8 1940.3 592.3 1941.6 590.8 1943.0 589.3 1944.3 587.8 1945.0 587.0 1945.6 586.3 1947.0 584.7 1948.3 583.2 1949.7 581.7 1951.0 580.1 1952.4 578.6 1953.8 577.1 1955.1 575.5 1956.5 574.0 1957.8 572.4 1959.2 570.9 1960.5 569.3 1961.9 567.8 1963.2 566.2 1964.6 564.7 1965.9 563.1 1967.2 561.5 1968.6 560.0 1969.9 558.4 1971.2 556.9 1972.5 555.3 1973.8 553.7 1975.1 552.2 1975.8 551.4 1976.4 550.6 1977.7 549.0 1979.0 547.5 1980.2 545.9 1981.5 544.3 1982.8 542.8 1984.0 541.2 1985.2 539.6 1986.5 538.1 1987.7 536.5 1988.9 534.9 1990.1 533.4 1991.3 531.8 1992.5 530.2 1993.7 528.6 1994.8 527.1 1995.9 525.6 1996.0 525.5 1997.2 523.9 1998.3 522.3 1999.5 520.7 2000.6 519.1 2001.8 517.5 2002.9 515.9 2004.1 514.3 2005.2 512.7 2006.3 511.1 2007.4 509.5 2008.6 507.9 2009.7 506.3 2010.8 504.6 2011.9 503.0 2012.7 501.8 2013.0 501.4 2014.1 499.7 2015.2 498.1 2016.2 496.5 2017.3 494.8 2018.4 493.2 2019.5 491.5 2020.6 489.8 2021.6 488.2 2022.7 486.5 2023.8 484.8 2024.9 483.2 2025.9 481.5 2027.0 479.8 2028.1 478.1 2029.2 476.5 2030.2 474.8 2031.3 473.1 2032.4 471.4 2033.4 469.7 2034.2 468.6 2034.5 468.1 2035.6 466.4 2036.7 464.7 2037.8 463.0 2038.9 461.3 2039.9 459.6 2041.0 457.9 2042.1 456.3 2043.2 454.6 2044.3 452.9 2045.5 451.2 2046.6 449.5 2047.7 447.8 2048.8 446.2 2049.9 444.5 2051.1 442.8 2052.2 441.1 2053.4 439.5 2054.5 437.8 2055.7 436.1 2056.9 434.5 2058.1 432.8 2059.2 431.2 2059.4 431.0 2060.4 429.5 2061.6 427.9 2062.8 426.2 2064.1 424.6 2065.3 423.0 2066.5 421.3 2067.8 419.7 2069.0 418.1 2070.2 416.5 2071.5 414.8 2072.7 413.2 2074.0 411.6 2075.2 410.0 2076.5 408.5 2077.8 406.9 2079.0 405.3 2080.3 403.7 2081.5 402.2 2082.8 400.6 2084.0 399.1 2085.3 397.5 2086.6 396.0 2087.8 394.5 2089.0 392.9 2089.8 392.0 2090.3 391.4 2091.5 389.9 2092.8 388.4 2094.0 386.9 2095.2 385.4 2096.5 384.0 2097.7 382.5 2099.0 381.0 2100.2 379.5 2101.5 378.1 2102.1 377.4 2102.8 376.6 2104.1 375.1 2105.4 373.6 2106.7 372.2 2108.0 370.7 2109.4 369.2 2110.7 367.7 2112.1 366.2 2113.6 364.7 2114.2 364.0 2115.0 363.2 2116.5 361.6 2118.0 360.1 2119.5 358.6 2121.1 357.2 2122.7 355.8 2124.3 354.5 2126.0 353.3 2126.5 352.9 2127.7 352.1 2129.4 351.1 2131.2 350.2 2133.0 349.4 2134.8 348.7 2136.6 348.2 2138.4 347.8 2140.3 347.6 2140.6 347.5 2142.1 347.5 2143.9 347.6 2145.7 347.9 2147.5 348.4 2149.2 349.1 2150.9 350.0 2151.7 350.5 2152.6 351.1 2154.2 352.4 2155.8 353.9 2157.3 355.6 2158.8 357.3 2160.2 359.1 2161.5 361.0 2162.6 362.6 2162.7 362.8 2163.9 364.7 2165.0 366.5 2166.0 368.4 2166.9 370.2 2167.7 372.0 2168.6 373.8 2169.3 375.6 2170.0 377.4 2170.4 378.3 2170.7 379.2 2171.3 381.0 2171.9 382.8 2172.5 384.6 2173.0 386.4 2173.5 388.2 2174.1 390.0 2174.6 391.9 2175.1 393.7 2175.6 395.6 2176.0 397.1 2176.1 397.5 2176.6 399.4 2177.2 401.4 2177.8 403.3 2178.4 405.3 2179.0 407.4 2179.7 409.4 2180.4 411.5 2181.2 413.7 2181.8 415.3 2182.0 415.9 2182.9 418.0 2183.8 420.0 2184.9 421.6 2186.0 422.5 2186.3 422.7 2187.2 422.7 2188.4 422.1 2189.8 421.0 2191.1 419.5 2191.9 418.5 2192.4 417.8 2193.6 416.1 2194.8 414.4 2196.0 412.6 2197.1 410.8 2198.2 409.0 2199.3 407.1 2200.3 405.3 2200.5 404.9 2201.3 403.4 2202.2 401.6 2203.2 399.7 2204.1 397.8 2205.0 396.0 2205.8 394.1 2206.7 392.2 2207.5 390.4 2208.3 388.5 2209.1 386.6 2209.8 384.7 2210.6 382.8 2211.3 380.9 2211.4 380.7 2212.0 379.0 2212.6 377.1 2213.3 375.3 2213.9 373.4 2214.6 371.5 2215.2 369.6 2215.8 367.7 2216.4 365.7 2217.0 363.8 2217.5 361.9 2218.1 360.0 2218.6 358.1 2219.2 356.2 2219.7 354.3 2219.8 353.9 2220.2 352.4 2220.8 350.5 2221.3 348.5 2221.8 346.6 2222.3 344.7 2222.8 342.8 2223.3 340.9 2223.8 339.0 2224.3 337.0 2224.8 335.1 2225.3 333.2 2225.8 331.3 2226.2 329.7 2226.3 329.4 2226.9 327.4 2227.4 325.5 2227.9 323.6 2228.4 321.7 2229.0 319.8 2229.5 317.8 2230.0 315.9 2230.6 314.0 2231.1 312.1 2231.7 310.2 2232.2 308.2 2232.8 306.3 2233.3 304.4 2233.9 302.5 2234.5 300.6 2235.1 298.7 2235.7 296.8 2236.2 294.9 2236.8 292.9 2237.2 291.6 2237.4 291.0 2238.0 289.1 2238.6 287.2 2239.3 285.3 2239.9 283.4 2240.5 281.5 2241.1 279.6 2241.7 277.7 2242.4 275.8 2243.0 273.9 2243.7 272.0 2244.3 270.1 2245.0 268.2 2245.7 266.3 2246.3 264.5 2247.0 262.6 2247.7 260.7 2248.4 258.8 2249.1 256.9 2249.8 255.0 2250.5 253.2 2251.2 251.3 2251.9 249.4 2252.6 247.6 2253.3 245.7 2253.3 245.7 2254.1 243.8 2254.8 242.0 2255.6 240.1 2256.3 238.2 2257.1 236.4 2257.8 234.5 2258.6 232.7 2259.4 230.8 2260.2 229.0 2261.0 227.2 2261.8 225.3 2262.6 223.5 2263.4 221.7 2264.2 219.8 2265.0 218.0 2265.8 216.2 2266.7 214.4 2267.5 212.6 2268.4 210.7 2269.2 208.9 2269.6 208.1 2270.1 207.1 2271.0 205.3 2271.9 203.5 2272.7 201.7 2273.6 199.9 2274.5 198.2 2275.5 196.4 2276.4 194.6 2277.3 192.8 2278.2 191.1 2279.2 189.3 2280.1 187.5 2281.1 185.8 2282.0 184.0 2283.0 182.3 2284.0 180.5 2285.0 178.8 2286.0 177.0 2286.1 176.8 2287.0 175.3 2288.0 173.6 2289.0 171.9 2290.0 170.1 2291.1 168.4 2292.1 166.7 2293.2 165.0 2294.2 163.3 2295.3 161.6 2296.4 159.9 2297.4 158.2 2298.5 156.6 2299.6 154.9 2300.8 153.2 2301.9 151.6 2303.0 149.9 L2303.0 149.9 2319.7 135.4 2336.5 121.5" stroke="#ff0000"/>
<path d="M1375.5 752.5 1377.4 752.6 1379.3 752.8 1381.2 753.1 1381.7 753.2 1383.1 753.5 1385.0 754.0 1386.9 754.6 1388.8 755.2 1390.0 755.6 1390.8 755.9 1392.7 756.6 1394.6 757.3 1396.5 758.0 1398.5 758.6 1399.8 759.1 1400.4 759.3 1402.4 759.8 1404.3 760.4 1406.3 760.9 1408.2 761.3 1410.2 761.8 1412.1 762.1 1414.1 762.5 1416.1 762.8 1418.1 763.0 1419.1 763.1 1420.0 763.3 1422.0 763.5 1424.0 763.6 1426.0 763.8 1427.9 763.9 1429.9 763.9 1431.9 764.0 1433.9 764.0 1435.9 764.0 1437.9 764.0 1439.9 763.9 1441.9 763.9 1443.9 763.8 1445.9 763.7 1447.9 763.6 1449.9 763.5 1451.9 763.3 1453.9 763.2 1455.9 763.0 1457.9 762.8 1459.9 762.6 1461.9 762.5 1463.9 762.3 1465.9 762.1 1467.9 761.9 1469.9 761.6 1471.9 761.4 1474.0 761.2 1476.0 761.0 1478.0 760.8 1480.0 760.6 1480.0 760.6 1482.0 760.5 1484.0 760.3 1486.0 760.1 1488.0 759.9 1490.0 759.8 1492.0 759.6 1494.0 759.5 1496.0 759.3 1498.0 759.2 1500.0 759.0 1502.0 758.9 1504.0 758.8 1506.0 758.6 1508.0 758.5 1510.0 758.4 1512.0 758.3 1514.0 758.2 1516.0 758.1 1518.0 758.0 1520.0 757.9 1522.0 757.8 1524.0 757.7 1526.0 757.6 1528.0 757.5 1530.0 757.4 1532.0 757.4 1534.0 757.3 1536.0 757.2 1538.0 757.1 1540.0 757.1 1540.2 757.0 1542.0 757.0 1544.0 756.9 1546.0 756.8 1548.0 756.8 1550.0 756.7 1552.0 756.7 1554.0 756.6 1556.0 756.5 1558.0 756.5 1560.0 756.4 1562.0 756.4 1564.0 756.3 1566.0 756.2 1568.0 756.2 1570.0 756.1 1572.0 756.1 1574.0 756.0 1575.9 755.9 1577.9 755.9 1579.9 755.8 1581.9 755.7 1583.9 755.7 1585.9 755.6 1587.9 755.5 1589.9 755.5 1591.9 755.4 1593.9 755.3 1595.9 755.3 1597.9 755.2 1599.9 755.1 1601.8 755.0 1603.8 754.9 1605.8 754.9 1607.8 754.8 1609.8 754.7 1611.8 754.6 1613.8 754.5 1615.8 754.4 1616.5 754.3 1617.8 754.3 1619.8 754.2 1621.8 754.0 1623.7 753.9 1625.7 753.8 1627.7 753.7 1629.7 753.5 1631.7 753.4 1633.7 753.3 1635.7 753.1 1637.7 753.0 1639.7 752.9 1641.7 752.7 1643.7 752.6 1645.6 752.4 1647.6 752.3 1649.6 752.1 1651.6 751.9 1653.6 751.8 1655.6 751.6 1657.6 751.4 1659.6 751.3 1661.6 751.1 1663.6 750.9 1665.6 750.8 1667.5 750.6 1669.5 750.4 1671.5 750.2 1673.5 750.0 1675.5 749.8 1677.5 749.6 1679.5 749.5 1681.5 749.3 1683.5 749.1 1685.5 748.9 1687.5 748.7 1689.4 748.5 1691.4 748.3 1692.8 748.1 1693.4 748.1 1695.4 747.9 1697.4 747.7 1699.4 747.5 1701.4 747.2 1703.4 747.0 1705.4 746.8 1707.4 746.6 1709.4 746.4 1711.4 746.2 1713.4 746.0 1715.4 745.8 1717.3 745.6 1719.3 745.3 1721.3 745.1 1723.3 744.9 1725.3 744.7 1727.3 744.5 1729.3 744.3 1731.3 744.0 1733.3 743.8 1735.3 743.6 1737.3 743.4 1739.3 743.2 1741.3 742.9 1743.3 742.7 1745.3 742.5 1747.3 742.3 1749.3 742.1 1751.3 741.9 1753.3 741.6 1755.3 741.4 1757.3 741.2 1759.3 741.0 1759.9 740.9 1761.3 740.8 1763.3 740.6 1765.3 740.4 1767.3 740.2 1769.3 739.9 1771.3 739.7 1773.3 739.5 1775.3 739.3 1777.3 739.1 1779.3 738.9 1781.3 738.7 1783.3 738.5 1785.3 738.3 1787.3 738.0 1789.3 737.8 1791.3 737.6 1793.3 737.4 1795.3 737.2 1797.3 737.0 1799.3 736.8 1801.3 736.6 1803.3 736.4 1805.3 736.1 1807.3 735.9 1809.3 735.7 1810.9 735.5 1811.3 735.5 1813.3 735.3 1815.3 735.1 1817.3 734.9 1819.3 734.6 1821.3 734.4 1823.3 734.2 1825.3 734.0 1827.3 733.7 1829.3 733.5 1831.3 733.3 1833.3 733.1 1835.3 732.8 1837.3 732.6 1839.3 732.4 1841.3 732.1 1843.3 731.9 1845.3 731.7 1847.3 731.4 1849.2 731.2 1851.2 730.9 1853.2 730.7 1855.2 730.5 1857.2 730.2 1859.2 729.9 1861.2 729.7 1861.9 729.6 1863.2 729.4 1865.2 729.2 1867.2 728.9 1869.2 728.7 1871.1 728.4 1873.1 728.1 1875.1 727.8 1877.1 727.6 1879.1 727.3 1881.1 727.0 1883.1 726.7 1885.0 726.4 1887.0 726.2 1889.0 725.9 1891.0 725.6 1893.0 725.3 1894.9 725.0 1896.9 724.7 1898.9 724.4 1900.9 724.0 1902.8 723.7 1904.8 723.4 1906.8 723.1 1908.7 722.8 1910.7 722.4 1912.7 722.1 1914.7 721.8 1916.6 721.4 1918.6 721.1 1920.5 720.7 1922.5 720.4 1924.5 720.0 1926.4 719.6 1927.3 719.5 1928.4 719.3 1930.3 718.9 1932.3 718.5 1934.3 718.2 1936.2 717.8 1938.2 717.4 1940.1 717.0 1942.1 716.6 1944.0 716.2 1946.0 715.8 1947.9 715.4 1949.8 715.0 1951.8 714.5 1953.7 714.1 1955.7 713.7 1957.6 713.2 1959.5 712.8 1961.5 712.3 1963.4 711.9 1965.3 711.4 1967.3 711.0 1969.2 710.5 1971.1 710.0 1973.1 709.5 1975.0 709.0 1976.9 708.6 1978.8 708.1 1980.7 707.5 1982.7 707.0 1984.6 706.5 1986.5 706.0 1988.4 705.5 1989.8 705.1 1990.3 704.9 1992.2 704.4 1994.1 703.8 1996.0 703.3 1997.9 702.7 1999.8 702.2 2001.7 701.6 2003.6 701.0 2005.5 700.4 2007.4 699.8 2009.3 699.2 2011.2 698.6 2013.1 698.0 2015.0 697.4 2016.9 696.8 2018.7 696.2 2019.9 695.8 2020.6 695.5 2022.5 694.9 2024.4 694.2 2026.3 693.6 2028.2 692.9 2030.0 692.3 2031.9 691.6 2033.8 690.9 2035.7 690.2 2037.5 689.6 2039.4 688.9 2041.3 688.2 2043.2 687.5 2045.0 686.7 2046.9 686.0 2048.8 685.3 2050.6 684.6 2050.8 684.5 2052.5 683.8 2054.4 683.1 2056.2 682.3 2058.1 681.6 2060.0 680.8 2061.8 680.1 2063.7 679.3 2065.6 678.5 2067.4 677.7 2069.3 676.9 2071.2 676.1 2073.0 675.3 2074.9 674.5 2076.8 673.7 2078.6 672.9 2080.5 672.1 2082.1 671.4 2082.3 671.3 2084.2 670.4 2086.1 669.6 2087.9 668.7 2089.8 667.9 2091.7 667.0 2093.5 666.2 2095.4 665.3 2097.3 664.4 2099.1 663.5 2101.0 662.7 2102.9 661.8 2104.7 660.9 2106.6 660.0 2108.4 659.0 2110.3 658.1 2112.2 657.2 2113.4 656.6 2114.1 656.3 2115.9 655.4 2117.8 654.4 2119.7 653.5 2121.5 652.6 2123.4 651.7 2125.3 650.8 2127.1 649.9 2129.0 649.1 2130.9 648.3 2132.7 647.5 2134.6 646.7 2136.5 646.0 2138.3 645.4 2140.2 644.8 2142.0 644.2 2143.9 643.7 2144.2 643.6 2145.7 643.3 2147.6 642.9 2149.4 642.6 2151.3 642.3 2153.1 642.2 2154.9 642.1 2156.8 642.1 2157.0 642.1 2158.6 642.2 2160.4 642.4 2162.2 642.7 2164.0 643.1 2165.8 643.6 2167.6 644.2 2169.3 644.9 2169.4 645.0 2171.2 645.8 2173.0 646.8 2174.8 647.8 2176.5 648.9 2178.3 650.2 2180.1 651.4 2180.5 651.8 2181.8 652.8 2183.5 654.1 2185.3 655.4 2187.0 656.7 2188.7 657.8 2190.4 658.7 2192.1 659.4 2193.4 659.7 2193.7 659.8 2195.4 659.9 2197.1 659.7 2198.7 659.3 2200.3 658.6 2201.9 657.7 2203.6 656.7 2204.0 656.4 2205.2 655.5 2206.7 654.2 2208.3 652.8 2209.9 651.4 2211.4 649.8 2212.9 648.2 2214.5 646.6 2216.0 645.0 2216.9 644.0 2217.5 643.4 2218.9 641.8 2220.4 640.2 2221.9 638.7 2223.3 637.1 2224.7 635.6 2226.1 634.1 2227.5 632.6 2228.9 631.2 2230.3 629.7 2231.7 628.2 2233.0 626.8 2233.8 626.0 2234.4 625.3 2235.7 623.9 2237.0 622.4 2238.3 621.0 2239.6 619.5 2240.9 618.0 2242.2 616.6 2243.4 615.1 2244.7 613.6 2245.8 612.2 2245.9 612.1 2247.2 610.5 2248.4 609.0 2249.6 607.5 2250.8 605.9 2252.0 604.3 2253.2 602.7 2254.4 601.1 2255.5 599.5 2256.7 597.9 2257.6 596.7 2257.9 596.3 2259.0 594.6 2260.2 593.0 2261.3 591.3 2262.5 589.7 2263.6 588.0 2264.8 586.3 2265.9 584.7 2267.1 583.0 2268.2 581.3 2269.4 579.6 2270.1 578.6 2270.5 578.0 2271.6 576.3 2272.8 574.6 2273.9 572.9 2275.1 571.3 2276.3 569.6 2277.4 567.9 2278.6 566.3 2279.8 564.6 2281.0 563.0 2282.1 561.3 2283.3 559.7 2283.7 559.2 2284.5 558.1 2285.7 556.5 2287.0 554.8 2288.2 553.2 2289.4 551.7 2290.7 550.1 2291.9 548.5 2293.2 547.0 2294.5 545.4 2295.0 544.9 2295.8 543.9 2297.1 542.4 2298.4 540.9 2299.8 539.5 2301.1 538.0 2302.5 536.6 2303.9 535.2 2304.3 534.7 2305.3 533.8 2306.7 532.4 2308.2 531.0 2309.6 529.7 2311.1 528.4 2312.6 527.1 2314.0 525.9 2314.1 525.8 2315.7 524.6 2317.2 523.4 2318.8 522.2 2320.4 521.1 2322.1 519.9 2323.7 518.8 2324.7 518.2 2325.4 517.8 2327.1 516.7 2328.8 515.7 2330.6 514.7 2332.4 513.8 2334.2 512.9 2336.0 512.0" stroke="#0000ff"/>
<path d="M1376.5 726.0 1378.5 700.0 1381.5 697.5 1383.8 700.0 1385.2 712.0 1387.5 726.0 L1387.5 726.0 1388.0 728.0 1388.6 730.0 1389.3 731.9 1390.1 733.8 1391.0 735.7 1391.9 737.5 1393.0 739.3 1393.3 739.8 1394.1 741.0 1395.3 742.7 1396.6 744.3 1397.9 745.9 1399.3 747.4 1400.8 748.8 1401.9 749.8 1402.3 750.1 1403.9 751.3 1405.5 752.5 1407.1 753.6 1408.8 754.6 1410.5 755.6 1412.3 756.4 1412.6 756.5 1414.1 757.2 1415.9 757.9 1417.7 758.5 1419.6 759.1 1421.4 759.7 1422.6 760.0 1423.3 760.1 1425.2 760.6 1427.1 761.0 1428.9 761.4 1430.8 761.7 1432.7 762.0 1434.6 762.2 1436.5 762.5 1438.5 762.6 1440.4 762.8 1442.3 762.9 1444.2 763.1 1446.2 763.1 1448.1 763.2 1449.4 763.2 1450.1 763.2 1452.0 763.3 1454.0 763.3 1455.9 763.3 1457.9 763.2 1459.8 763.2 1461.8 763.1 1463.8 763.0 1465.8 763.0 1467.7 762.9 1469.7 762.8 1471.7 762.7 1473.7 762.6 1475.7 762.5 1477.7 762.4 1479.7 762.3 1481.7 762.2 1483.7 762.1 1485.7 762.0 1487.0 761.9 1487.7 761.9 1489.7 761.8 1491.8 761.8 1493.8 761.7 1495.8 761.7 1497.8 761.6 1499.8 761.6 1501.9 761.5 1503.9 761.5 1505.9 761.5 1507.9 761.5 1510.0 761.5 1512.0 761.5 1514.0 761.5 1516.1 761.5 1518.1 761.5 1520.1 761.5 1522.2 761.5 1524.2 761.5 1526.2 761.5 1528.3 761.5 1530.3 761.5 1532.4 761.6 1534.4 761.6 1536.4 761.6 1538.5 761.6 1539.7 761.6 1540.5 761.7 1542.5 761.7 1544.6 761.7 1546.6 761.7 1548.6 761.7 1550.7 761.8 1552.7 761.8 1554.7 761.8 1556.7 761.8 1558.8 761.8 1560.8 761.8 1562.8 761.9 1564.9 761.9 1566.9 761.9 1568.9 761.9 1570.9 761.9 1573.0 761.9 1575.0 761.9 1577.0 761.9 1579.0 762.0 1581.1 762.0 1583.1 762.0 1585.1 762.0 1587.1 762.0 1589.1 762.0 1591.2 762.0 1593.2 762.0 1595.2 762.0 1597.2 762.0 1599.2 762.0 1601.2 762.0 1603.3 762.0 1605.3 762.0 1607.3 762.0 1609.3 762.0 1611.3 762.0 1613.3 762.0 1615.4 762.0 1617.4 762.0 1619.4 762.0 1621.4 762.0 1623.4 762.0 1625.4 762.0 1627.4 762.0 1629.4 762.0 1631.5 762.0 1633.5 761.9 1635.5 761.9 1637.5 761.9 1639.5 761.9 1641.5 761.9 1643.5 761.9 1645.5 761.9 1647.5 761.8 1649.5 761.8 1651.5 761.8 1653.5 761.8 1655.5 761.7 1657.5 761.7 1659.5 761.7 1661.6 761.7 1663.6 761.6 1665.6 761.6 1667.6 761.6 1669.6 761.5 1671.6 761.5 1673.6 761.5 1675.6 761.4 1677.6 761.4 1679.6 761.4 1681.6 761.3 1683.6 761.3 1685.6 761.2 1687.6 761.2 1689.6 761.2 1691.6 761.1 1693.6 761.1 1693.6 761.1 1695.6 761.0 1697.6 761.0 1699.6 760.9 1701.6 760.8 1703.5 760.8 1705.5 760.7 1707.5 760.7 1709.5 760.6 1711.5 760.6 1713.5 760.5 1715.5 760.4 1717.5 760.4 1719.5 760.3 1721.5 760.2 1723.5 760.2 1725.5 760.1 1727.5 760.0 1729.5 759.9 1731.5 759.9 1733.5 759.8 1735.5 759.7 1737.4 759.6 1739.4 759.5 1741.4 759.5 1743.4 759.4 1745.4 759.3 1747.4 759.2 1749.4 759.1 1751.4 759.0 1753.4 758.9 1755.4 758.8 1757.3 758.7 1759.3 758.6 1760.4 758.6 1761.3 758.5 1763.3 758.4 1765.3 758.3 1767.3 758.2 1769.3 758.1 1771.3 758.0 1773.2 757.9 1775.2 757.7 1777.2 757.6 1779.2 757.5 1781.2 757.4 1783.2 757.3 1785.2 757.1 1787.2 757.0 1789.1 756.9 1791.1 756.8 1793.1 756.6 1795.1 756.5 1797.1 756.3 1799.1 756.2 1801.1 756.1 1803.0 755.9 1805.0 755.8 1807.0 755.6 1809.0 755.5 1810.8 755.4 1811.0 755.3 1813.0 755.2 1814.9 755.0 1816.9 754.9 1818.9 754.7 1820.9 754.5 1822.9 754.4 1824.9 754.2 1826.9 754.0 1828.8 753.9 1830.8 753.7 1832.8 753.5 1834.8 753.3 1836.8 753.2 1838.8 753.0 1840.7 752.8 1842.7 752.6 1844.7 752.4 1846.7 752.2 1848.7 752.0 1850.7 751.8 1852.6 751.6 1854.6 751.4 1856.6 751.2 1858.6 751.0 1860.6 750.8 1861.3 750.7 1862.5 750.6 1864.5 750.4 1866.5 750.2 1868.5 750.0 1870.5 749.7 1872.5 749.5 1874.4 749.3 1876.4 749.1 1878.4 748.8 1880.4 748.6 1882.4 748.4 1884.4 748.1 1886.3 747.9 1888.3 747.7 1890.3 747.4 1892.3 747.2 1894.3 746.9 1896.3 746.7 1898.2 746.4 1900.2 746.2 1902.2 745.9 1904.2 745.7 1906.2 745.4 1908.2 745.2 1910.1 744.9 1912.0 744.7 1912.1 744.7 1914.1 744.4 1916.1 744.2 1918.1 743.9 1920.1 743.6 1922.0 743.4 1924.0 743.1 1926.0 742.8 1928.0 742.6 1930.0 742.3 1932.0 742.0 1933.9 741.8 1935.9 741.5 1937.9 741.2 1939.9 740.9 1941.9 740.7 1943.9 740.4 1945.8 740.1 1947.8 739.8 1949.8 739.6 1951.8 739.3 1953.8 739.0 1955.8 738.7 1957.8 738.5 1959.7 738.2 1961.7 737.9 1962.8 737.8 1963.7 737.6 1965.7 737.4 1967.7 737.1 1969.7 736.8 1971.7 736.5 1973.6 736.2 1975.6 736.0 1977.6 735.7 1979.6 735.4 1981.6 735.1 1983.6 734.9 1985.6 734.6 1987.6 734.3 1989.6 734.0 1989.8 734.0 1991.5 733.7 1993.5 733.5 1995.5 733.2 1997.5 732.9 1999.5 732.6 2001.5 732.4 2003.5 732.1 2005.5 731.8 2007.5 731.5 2009.4 731.3 2011.4 731.0 2013.4 730.7 2015.4 730.4 2017.4 730.2 2019.4 729.9 2021.4 729.6 2023.4 729.3 2025.4 729.1 2027.4 728.8 2029.3 728.5 2031.3 728.2 2033.3 727.9 2035.3 727.7 2035.9 727.6 2037.3 727.4 2039.3 727.1 2041.3 726.8 2043.3 726.5 2045.3 726.2 2047.3 726.0 2049.2 725.7 2051.2 725.4 2053.2 725.1 2055.2 724.8 2057.2 724.5 2059.2 724.2 2061.2 723.9 2063.2 723.6 2065.1 723.3 2067.1 723.0 2069.1 722.7 2071.1 722.4 2073.1 722.1 2075.1 721.8 2077.1 721.5 2079.0 721.2 2081.0 720.9 2082.0 720.7 2083.0 720.6 2085.0 720.3 2087.0 719.9 2089.0 719.6 2090.9 719.3 2092.9 719.0 2094.9 718.6 2096.9 718.3 2098.9 718.0 2100.8 717.6 2102.8 717.3 2104.8 717.0 2106.8 716.6 2108.8 716.3 2110.7 715.9 2112.7 715.6 2114.7 715.2 2116.7 714.9 2118.6 714.5 2120.6 714.2 2122.6 713.8 2124.5 713.4 2126.5 713.0 2128.2 712.7 2128.5 712.7 2130.4 712.3 2132.4 711.9 2134.4 711.5 2136.4 711.1 2138.3 710.7 2140.3 710.4 2142.2 710.0 2144.2 709.6 2146.2 709.1 2148.1 708.7 2150.1 708.3 2152.1 707.9 2154.0 707.5 2156.0 707.1 2157.9 706.6 2159.9 706.2 2160.5 706.1 2161.8 705.8 2163.8 705.3 2165.7 704.9 2167.7 704.4 2169.6 704.0 2171.6 703.5 2173.5 703.1 2175.5 702.6 2177.4 702.2 2179.4 701.7 2181.3 701.3 2181.3 701.3 2183.3 700.8 2185.2 700.4 2187.1 700.0 2189.1 699.5 2191.0 699.1 2193.0 698.7 2194.9 698.3 2196.8 697.9 2198.8 697.5 2200.7 697.1 2201.8 696.8 2202.6 696.7 2204.6 696.3 2206.5 696.0 2208.4 695.6 2210.3 695.2 2212.3 694.9 2214.2 694.5 2216.1 694.2 2216.2 694.2 2218.0 693.8 2219.9 693.5 2221.9 693.1 2223.8 692.7 2225.7 692.4 2227.6 692.0 2229.5 691.5 2231.4 691.1 2233.3 690.6 2234.7 690.3 2235.1 690.1 2237.0 689.6 2238.9 689.1 2240.7 688.5 2242.6 687.8 2244.4 687.2 2246.2 686.4 2248.0 685.7 2249.8 684.9 2251.6 684.0 2251.7 683.9 2253.4 683.1 2255.1 682.1 2256.8 681.0 2258.6 680.0 2260.3 678.8 2262.0 677.7 2263.6 676.4 2265.3 675.2 2266.9 673.9 2268.5 672.6 2268.6 672.5 2270.1 671.2 2271.7 669.8 2273.2 668.4 2274.8 667.0 2276.3 665.5 2277.8 664.0 2279.2 662.5 2280.6 661.0 2282.0 659.5 2283.3 658.1 2283.4 657.9 2284.8 656.4 2286.1 654.8 2287.4 653.3 2288.7 651.7 2289.9 650.1 2291.2 648.5 2292.4 647.0 2293.6 645.4 2294.7 643.8 2295.9 642.2 2297.0 640.6 2297.2 640.3 2298.2 638.9 2299.3 637.3 2300.4 635.7 2301.5 634.1 2302.5 632.4 2303.6 630.8 2304.6 629.1 2305.7 627.5 2306.7 625.8 2307.8 624.2 2308.8 622.5 2309.8 620.9 2310.8 619.2 2311.9 617.5 2312.9 615.9 2313.8 614.4 2313.9 614.2 2314.9 612.5 2315.9 610.8 2317.0 609.2 2318.0 607.5 2319.0 605.8 2320.1 604.1 2321.1 602.4 2322.2 600.7 2323.3 599.0 2324.3 597.4 2325.4 595.7 2326.5 594.0 2327.7 592.3 2328.8 590.6 2330.0 588.9 2331.1 587.2 2332.3 585.5 2333.5 583.9 2334.8 582.2 2336.0 580.5" stroke="#008080"/>
<path d="M1384.5 727.8 1386.5 727.8 1388.5 727.8 1390.5 727.8 1392.5 727.7 1394.5 727.7 1396.4 727.7 1398.4 727.7 1400.4 727.7 1402.4 727.7 1404.4 727.6 1406.4 727.6 1408.4 727.6 1410.4 727.6 1412.4 727.6 1414.4 727.6 1416.4 727.5 1418.4 727.5 1420.4 727.5 1422.4 727.5 1424.4 727.5 1426.4 727.5 1428.3 727.4 1430.3 727.4 1432.3 727.4 1434.3 727.4 1436.3 727.4 1438.3 727.4 1440.3 727.3 1442.3 727.3 1444.3 727.3 1446.3 727.3 1448.3 727.3 1450.3 727.3 1452.3 727.2 1454.3 727.2 1456.3 727.2 1458.3 727.2 1460.3 727.2 1462.3 727.2 1464.3 727.1 1466.3 727.1 1468.3 727.1 1470.3 727.1 1472.3 727.1 1474.3 727.1 1476.3 727.0 1478.3 727.0 1480.3 727.0 1482.3 727.0 1484.3 727.0 1486.3 726.9 1488.3 726.9 1490.3 726.9 1492.3 726.9 1494.3 726.9 1496.3 726.9 1498.3 726.8 1500.3 726.8 1502.3 726.8 1504.3 726.8 1506.3 726.8 1508.3 726.8 1509.8 726.7 1510.3 726.7 1512.3 726.7 1514.3 726.7 1516.3 726.7 1518.3 726.7 1520.3 726.7 1522.3 726.6 1524.3 726.6 1526.3 726.6 1528.3 726.6 1529.8 726.6 1530.3 726.6 1532.3 726.6 1534.3 726.5 1536.3 726.5 1538.3 726.5 1540.3 726.5 1542.3 726.5 1544.3 726.5 1546.3 726.4 1548.3 726.4 1550.3 726.4 1552.3 726.4 1554.3 726.4 1556.3 726.4 1558.3 726.3 1560.3 726.3 1562.3 726.3 1564.3 726.3 1566.3 726.3 1568.3 726.3 1570.3 726.3 1572.3 726.2 1574.3 726.2 1576.3 726.2 1578.3 726.2 1580.3 726.2 1582.3 726.2 1584.3 726.1 1586.3 726.1 1588.4 726.1 1590.4 726.1 1592.4 726.1 1594.4 726.1 1596.4 726.1 1598.4 726.0 1600.4 726.0 1602.4 726.0 1604.4 726.0 1606.4 726.0 1608.4 726.0 1610.4 726.0 1612.4 726.0 1614.4 725.9 1616.4 725.9 1618.4 725.9 1620.4 725.9 1622.4 725.9 1624.4 725.9 1626.4 725.9 1628.4 725.9 1630.4 725.8 1632.4 725.8 1634.4 725.8 1636.4 725.8 1638.4 725.8 1640.5 725.8 1642.5 725.8 1644.5 725.8 1646.5 725.8 1648.5 725.8 1650.5 725.7 1652.5 725.7 1654.5 725.7 1656.5 725.7 1658.5 725.7 1660.5 725.7 1662.5 725.7 1664.5 725.7 1666.5 725.7 1668.5 725.7 1670.5 725.7 1672.5 725.6 1674.5 725.6 1676.5 725.6 1678.5 725.6 1680.5 725.6 1682.5 725.6 1684.5 725.6 1686.5 725.6 1688.5 725.6 1690.6 725.6 1692.6 725.6 1694.6 725.6 1696.6 725.6 1698.6 725.6 1700.1 725.6 1700.6 725.6 1702.6 725.6 1704.6 725.5 1706.6 725.5 1708.6 725.5 1710.6 725.5 1712.6 725.5 1714.6 725.5 1716.6 725.5 1718.6 725.5 1720.6 725.5 1722.6 725.5 1724.6 725.5 1726.6 725.5 1728.6 725.5 1730.6 725.5 1732.6 725.5 1734.6 725.5 1736.6 725.5 1738.6 725.5 1740.6 725.5 1742.6 725.5 1744.6 725.5 1746.6 725.5 1748.6 725.5 1750.6 725.4 1752.6 725.4 1754.6 725.4 1756.6 725.4 1758.6 725.4 1760.6 725.4 1762.6 725.4 1764.6 725.4 1766.6 725.4 1768.6 725.4 1770.6 725.3 1772.7 725.3 1774.7 725.3 1776.7 725.3 1778.7 725.3 1780.7 725.3 1782.7 725.3 1784.7 725.2 1786.7 725.2 1788.7 725.2 1790.2 725.2 1790.7 725.2 1792.7 725.2 1794.7 725.1 1796.7 725.1 1798.7 725.1 1800.7 725.1 1802.7 725.0 1804.6 725.0 1806.6 725.0 1808.6 724.9 1810.6 724.9 1812.6 724.9 1814.6 724.8 1816.6 724.8 1818.6 724.8 1820.6 724.7 1822.6 724.7 1824.6 724.7 1826.6 724.6 1828.6 724.6 1830.6 724.5 1832.6 724.5 1834.6 724.4 1836.6 724.4 1838.6 724.3 1840.6 724.3 1842.6 724.2 1844.6 724.2 1846.6 724.1 1848.6 724.1 1850.6 724.0 1852.6 723.9 1854.6 723.9 1856.6 723.8 1858.6 723.7 1860.6 723.7 1861.6 723.6 1862.6 723.6 1864.6 723.5 1866.6 723.5 1868.5 723.4 1870.5 723.3 1872.5 723.2 1874.5 723.1 1876.5 723.0 1878.5 723.0 1880.5 722.9 1882.5 722.8 1884.5 722.7 1886.5 722.6 1888.5 722.5 1890.5 722.4 1892.5 722.3 1894.5 722.2 1896.4 722.1 1898.4 722.0 1900.4 721.9 1902.4 721.7 1904.4 721.6 1906.4 721.5 1908.4 721.4 1910.4 721.3 1912.2 721.1 1912.4 721.1 1914.4 721.0 1916.3 720.9 1918.3 720.7 1920.3 720.6 1922.3 720.5 1924.3 720.3 1926.3 720.2 1928.3 720.0 1930.3 719.9 1932.3 719.7 1934.2 719.5 1936.2 719.4 1938.2 719.2 1940.2 719.0 1942.2 718.9 1944.2 718.7 1946.2 718.5 1948.2 718.3 1950.1 718.1 1952.1 717.9 1954.1 717.7 1956.1 717.5 1958.1 717.3 1960.1 717.1 1962.0 716.9 1962.9 716.8 1964.0 716.6 1966.0 716.4 1968.0 716.2 1970.0 715.9 1972.0 715.7 1973.9 715.4 1975.9 715.1 1977.9 714.9 1979.9 714.6 1981.9 714.3 1983.9 714.0 1985.8 713.7 1987.8 713.4 1989.8 713.1 1989.8 713.1 1991.8 712.8 1993.8 712.5 1995.7 712.2 1997.7 711.8 1999.7 711.5 2001.7 711.1 2003.7 710.8 2005.6 710.4 2007.6 710.1 2009.6 709.7 2011.6 709.4 2013.5 709.0 2015.5 708.6 2017.5 708.3 2019.5 707.9 2021.5 707.5 2023.4 707.1 2025.4 706.7 2027.4 706.4 2029.4 706.0 2031.3 705.6 2033.3 705.2 2035.3 704.8 2036.2 704.7 2037.3 704.4 2039.2 704.1 2041.2 703.7 2043.2 703.3 2045.1 702.9 2047.1 702.6 2049.1 702.2 2051.1 701.8 2053.0 701.4 2055.0 701.1 2057.0 700.7 2058.9 700.3 2060.9 700.0 2062.9 699.6 2064.8 699.2 2066.8 698.9 2068.8 698.5 2070.8 698.2 2072.7 697.8 2074.7 697.4 2076.7 697.1 2078.6 696.8 2080.6 696.4 2082.0 696.2 2082.6 696.1 2084.5 695.7 2086.5 695.4 2088.5 695.1 2090.4 694.7 2092.4 694.4 2094.3 694.1 2096.3 693.8 2098.3 693.5 2100.2 693.2 2102.2 692.8 2104.2 692.5 2106.1 692.2 2108.1 691.9 2110.0 691.7 2112.0 691.4 2114.0 691.1 2115.9 690.8 2117.9 690.5 2119.8 690.3 2121.8 690.0 2123.8 689.7 2125.7 689.5 2127.7 689.2 2127.8 689.2 2129.6 689.0 2131.6 688.8 2133.6 688.5 2135.5 688.3 2137.5 688.0 2139.4 687.8 2141.4 687.5 2143.3 687.2 2145.3 686.9 2147.2 686.7 2149.2 686.3 2151.1 686.0 2153.1 685.6 2155.1 685.3 2157.0 684.9 2159.0 684.4 2159.4 684.3 2160.9 684.0 2162.9 683.5 2164.8 682.9 2166.8 682.4 2168.7 681.8 2170.7 681.2 2172.6 680.6 2174.6 680.0 2176.5 679.4 2178.5 678.7 2180.4 678.1 2182.4 677.4 2184.3 676.8 2186.3 676.2 2186.3 676.1 2188.3 675.5 2190.2 674.9 2192.2 674.2 2194.1 673.6 2196.1 673.0 2198.1 672.4 2200.1 671.8 2202.0 671.3 2204.0 670.7 2206.0 670.2 2208.0 669.8 2210.0 669.3 2211.9 668.9 2213.2 668.7 2213.9 668.5 2215.9 668.2 2217.9 667.9 2219.9 667.6 2221.9 667.3 2223.9 667.0 2225.8 666.7 2227.8 666.3 2229.7 665.9 2231.6 665.5 2233.5 665.0 2235.3 664.5 2237.1 663.9 2238.9 663.2 2239.2 663.1 2240.6 662.4 2242.3 661.5 2244.0 660.5 2245.6 659.5 2247.1 658.3 2248.6 657.1 2250.1 655.8 2251.4 654.4 2251.5 654.4 2252.8 652.9 2254.1 651.4 2255.3 649.8 2256.5 648.1 2257.7 646.3 2258.8 644.5 2260.0 642.6 2260.5 641.8 2261.1 640.7 2262.3 638.8 2263.5 637.0 2264.7 635.6 2266.0 634.5 2267.3 634.0 2267.3 634.0 2268.7 634.2 2270.1 635.0 2271.5 636.2 2273.0 637.8 2273.1 637.8 2274.5 639.6 2276.1 641.5 2277.7 643.3 2279.3 645.1 2281.0 646.6 2282.1 647.4 2282.7 647.8 2284.4 648.5 2286.2 648.8 2287.9 648.9 2289.6 648.7 2291.3 648.3 2291.4 648.3 2293.1 647.8 2294.7 647.1 2296.4 646.3 2298.0 645.4 2299.6 644.4 2301.2 643.3 2302.8 642.0 2303.2 641.7 2304.3 640.7 2305.9 639.3 2307.3 637.8 2308.8 636.3 2310.2 634.7 2311.6 633.0 2313.0 631.2 2314.4 629.5 2315.7 627.6 2317.0 625.8 2317.9 624.3 2318.2 623.9 2319.5 622.0 2320.7 620.0 2321.9 618.1 2323.0 616.2 2324.1 614.2 2325.2 612.3 2326.2 610.4 2327.2 608.5 2328.2 606.6 2329.2 604.8 2330.1 603.0 2330.9 601.3 2331.8 599.6 2332.6 598.0 2333.3 596.4 2334.1 594.9 2334.7 593.5 2335.4 592.2 2336.0 591.0" stroke="#ff00ff"/>
</g>
<defs><clipPath id="clipL"><rect x="203" y="29" width="975" height="722"/></clipPath><clipPath id="clipR"><rect x="1378" y="64" width="954" height="703.5"/></clipPath></defs>
<rect x="200.7" y="26.6" width="979.7" height="726.9" fill="none" stroke="#000" stroke-width="5.0"/>
<rect x="1375.7" y="61.5" width="958.6" height="708.5" fill="none" stroke="#000" stroke-width="5.0"/>
<text x="186.2" y="761.9" font-family="'Liberation Serif', 'Times New Roman', serif" font-size="54" font-weight="bold" text-anchor="end">0</text>
<text x="186.2" y="652.9" font-family="'Liberation Serif', 'Times New Roman', serif" font-size="54" font-weight="bold" text-anchor="end">500</text>
<text x="186.2" y="543.9" font-family="'Liberation Serif', 'Times New Roman', serif" font-size="54" font-weight="bold" text-anchor="end">1000</text>
<text x="186.2" y="434.9" font-family="'Liberation Serif', 'Times New Roman', serif" font-size="54" font-weight="bold" text-anchor="end">1500</text>
<text x="186.2" y="325.8" font-family="'Liberation Serif', 'Times New Roman', serif" font-size="54" font-weight="bold" text-anchor="end">2000</text>
<text x="186.2" y="216.8" font-family="'Liberation Serif', 'Times New Roman', serif" font-size="54" font-weight="bold" text-anchor="end">2500</text>
<text x="186.2" y="107.8" font-family="'Liberation Serif', 'Times New Roman', serif" font-size="54" font-weight="bold" text-anchor="end">3000</text>
<text x="302.6" y="809.7" font-family="'Liberation Serif', 'Times New Roman', serif" font-size="54" font-weight="bold" text-anchor="middle">100</text>
<text x="437.6" y="809.7" font-family="'Liberation Serif', 'Times New Roman', serif" font-size="54" font-weight="bold" text-anchor="middle">200</text>
<text x="572.6" y="809.7" font-family="'Liberation Serif', 'Times New Roman', serif" font-size="54" font-weight="bold" text-anchor="middle">300</text>
<text x="707.7" y="809.7" font-family="'Liberation Serif', 'Times New Roman', serif" font-size="54" font-weight="bold" text-anchor="middle">400</text>
<text x="842.7" y="809.7" font-family="'Liberation Serif', 'Times New Roman', serif" font-size="54" font-weight="bold" text-anchor="middle">500</text>
<text x="977.7" y="809.7" font-family="'Liberation Serif', 'Times New Roman', serif" font-size="54" font-weight="bold" text-anchor="middle">600</text>
<text x="1112.8" y="809.7" font-family="'Liberation Serif', 'Times New Roman', serif" font-size="54" font-weight="bold" text-anchor="middle">700</text>
<text x="1360.2" y="777.3" font-family="'Liberation Serif', 'Times New Roman', serif" font-size="52.5" font-weight="bold" text-anchor="end">0</text>
<text x="1360.2" y="699.4" font-family="'Liberation Serif', 'Times New Roman', serif" font-size="52.5" font-weight="bold" text-anchor="end">2</text>
<text x="1360.2" y="621.5" font-family="'Liberation Serif', 'Times New Roman', serif" font-size="52.5" font-weight="bold" text-anchor="end">4</text>
<text x="1360.2" y="543.6" font-family="'Liberation Serif', 'Times New Roman', serif" font-size="52.5" font-weight="bold" text-anchor="end">6</text>
<text x="1360.2" y="465.7" font-family="'Liberation Serif', 'Times New Roman', serif" font-size="52.5" font-weight="bold" text-anchor="end">8</text>
<text x="1360.2" y="387.8" font-family="'Liberation Serif', 'Times New Roman', serif" font-size="52.5" font-weight="bold" text-anchor="end">10</text>
<text x="1360.2" y="309.9" font-family="'Liberation Serif', 'Times New Roman', serif" font-size="52.5" font-weight="bold" text-anchor="end">12</text>
<text x="1360.2" y="232.0" font-family="'Liberation Serif', 'Times New Roman', serif" font-size="52.5" font-weight="bold" text-anchor="end">14</text>
<text x="1360.2" y="154.1" font-family="'Liberation Serif', 'Times New Roman', serif" font-size="52.5" font-weight="bold" text-anchor="end">16</text>
<text x="1360.2" y="76.2" font-family="'Liberation Serif', 'Times New Roman', serif" font-size="52.5" font-weight="bold" text-anchor="end">18</text>
<text x="1474.7" y="825.4" font-family="'Liberation Serif', 'Times New Roman', serif" font-size="52" font-weight="bold" text-anchor="middle">100</text>
<text x="1607.1" y="825.4" font-family="'Liberation Serif', 'Times New Roman', serif" font-size="52" font-weight="bold" text-anchor="middle">200</text>
<text x="1739.4" y="825.4" font-family="'Liberation Serif', 'Times New Roman', serif" font-size="52" font-weight="bold" text-anchor="middle">300</text>
<text x="1871.7" y="825.4" font-family="'Liberation Serif', 'Times New Roman', serif" font-size="52" font-weight="bold" text-anchor="middle">400</text>
<text x="2004.0" y="825.4" font-family="'Liberation Serif', 'Times New Roman', serif" font-size="52" font-weight="bold" text-anchor="middle">500</text>
<text x="2136.3" y="825.4" font-family="'Liberation Serif', 'Times New Roman', serif" font-size="52" font-weight="bold" text-anchor="middle">600</text>
<text x="2268.7" y="825.4" font-family="'Liberation Serif', 'Times New Roman', serif" font-size="52" font-weight="bold" text-anchor="middle">700</text>
<text x="513.5" y="880.3" font-family="'Liberation Serif', 'Times New Roman', serif" font-size="51.3" font-weight="bold" text-anchor="start">Temperature/°C</text>
<text x="1681.5" y="886.2" font-family="'Liberation Serif', 'Times New Roman', serif" font-size="50.2" font-weight="bold" text-anchor="start">Temperature/°C</text>
<text transform="translate(52.5 610.5) rotate(-90)" font-family="'Liberation Serif', 'Times New Roman', serif" font-size="52.5" font-weight="bold">Dielectric constant</text>
<text transform="translate(1274.3 586.3) rotate(-90)" font-family="'Liberation Serif', 'Times New Roman', serif" font-size="51.6" font-weight="bold">Dielectric loss</text>
<text x="206.6" y="88.3" font-family="'Liberation Serif', 'Times New Roman', serif" font-size="71" font-weight="bold" text-anchor="start">(a)</text>
<text x="1385.8" y="116.0" font-family="'Liberation Serif', 'Times New Roman', serif" font-size="67.5" font-weight="bold" text-anchor="start">(b)</text>
<rect x="599.2" y="65.7" width="368.3" height="260.4" fill="#fff" stroke="#222" stroke-width="1.8"/>
<line x1="616.0" y1="96.4" x2="696.0" y2="96.4" stroke="#000000" stroke-width="8.5" stroke-linecap="round"/>
<text transform="translate(706.0 94.1) scale(1 0.920)" x="0" y="16.39" font-family="'Liberation Serif', 'Noto Serif CJK SC', 'Noto Serif CJK JP', serif" font-size="41.5" font-weight="600" stroke="#000" stroke-width="0.55">①</text>
<text x="748.5" y="109.4" font-family="'Liberation Serif', 'Times New Roman', serif" font-size="44" font-weight="bold" textLength="212" lengthAdjust="spacingAndGlyphs">0wt.% CoO</text>
<line x1="616.0" y1="148.4" x2="696.0" y2="148.4" stroke="#ff0000" stroke-width="8.5" stroke-linecap="round"/>
<text transform="translate(706.0 146.1) scale(1 0.920)" x="0" y="16.39" font-family="'Liberation Serif', 'Noto Serif CJK SC', 'Noto Serif CJK JP', serif" font-size="41.5" font-weight="600" stroke="#000" stroke-width="0.55">②</text>
<text x="748.5" y="161.4" font-family="'Liberation Serif', 'Times New Roman', serif" font-size="44" font-weight="bold" textLength="212" lengthAdjust="spacingAndGlyphs">1wt.% CoO</text>
<line x1="616.0" y1="200.5" x2="696.0" y2="200.5" stroke="#0000ff" stroke-width="8.5" stroke-linecap="round"/>
<text transform="translate(706.0 198.2) scale(1 0.920)" x="0" y="16.39" font-family="'Liberation Serif', 'Noto Serif CJK SC', 'Noto Serif CJK JP', serif" font-size="41.5" font-weight="600" stroke="#000" stroke-width="0.55">③</text>
<text x="748.5" y="213.5" font-family="'Liberation Serif', 'Times New Roman', serif" font-size="44" font-weight="bold" textLength="212" lengthAdjust="spacingAndGlyphs">3wt.% CoO</text>
<line x1="616.0" y1="252.6" x2="696.0" y2="252.6" stroke="#008080" stroke-width="8.5" stroke-linecap="round"/>
<text transform="translate(706.0 250.3) scale(1 0.920)" x="0" y="16.39" font-family="'Liberation Serif', 'Noto Serif CJK SC', 'Noto Serif CJK JP', serif" font-size="41.5" font-weight="600" stroke="#000" stroke-width="0.55">④</text>
<text x="748.5" y="265.6" font-family="'Liberation Serif', 'Times New Roman', serif" font-size="44" font-weight="bold" textLength="212" lengthAdjust="spacingAndGlyphs">5wt.% CoO</text>
<line x1="616.0" y1="304.7" x2="696.0" y2="304.7" stroke="#ff00ff" stroke-width="8.5" stroke-linecap="round"/>
<text transform="translate(706.0 302.4) scale(1 0.920)" x="0" y="16.39" font-family="'Liberation Serif', 'Noto Serif CJK SC', 'Noto Serif CJK JP', serif" font-size="41.5" font-weight="600" stroke="#000" stroke-width="0.55">⑤</text>
<text x="748.5" y="317.7" font-family="'Liberation Serif', 'Times New Roman', serif" font-size="44" font-weight="bold" textLength="212" lengthAdjust="spacingAndGlyphs">7wt.% CoO</text>
<rect x="1754.8" y="88.3" width="360.4" height="254.0" fill="#fff" stroke="#222" stroke-width="1.8"/>
<line x1="1772.5" y1="119.3" x2="1849.5" y2="119.3" stroke="#000000" stroke-width="8.5" stroke-linecap="round"/>
<text transform="translate(1858.9 117.0) scale(1 0.930)" x="0" y="15.80" font-family="'Liberation Serif', 'Noto Serif CJK SC', 'Noto Serif CJK JP', serif" font-size="40" font-weight="600" stroke="#000" stroke-width="0.55">①</text>
<text x="1900.8" y="132.1" font-family="'Liberation Serif', 'Times New Roman', serif" font-size="42.5" font-weight="bold" textLength="208" lengthAdjust="spacingAndGlyphs">0wt.% CoO</text>
<line x1="1772.5" y1="170.1" x2="1849.5" y2="170.1" stroke="#ff0000" stroke-width="8.5" stroke-linecap="round"/>
<text transform="translate(1858.9 167.8) scale(1 0.930)" x="0" y="15.80" font-family="'Liberation Serif', 'Noto Serif CJK SC', 'Noto Serif CJK JP', serif" font-size="40" font-weight="600" stroke="#000" stroke-width="0.55">②</text>
<text x="1900.8" y="182.9" font-family="'Liberation Serif', 'Times New Roman', serif" font-size="42.5" font-weight="bold" textLength="208" lengthAdjust="spacingAndGlyphs">1wt.% CoO</text>
<line x1="1772.5" y1="220.9" x2="1849.5" y2="220.9" stroke="#0000ff" stroke-width="8.5" stroke-linecap="round"/>
<text transform="translate(1858.9 218.6) scale(1 0.930)" x="0" y="15.80" font-family="'Liberation Serif', 'Noto Serif CJK SC', 'Noto Serif CJK JP', serif" font-size="40" font-weight="600" stroke="#000" stroke-width="0.55">③</text>
<text x="1900.8" y="233.7" font-family="'Liberation Serif', 'Times New Roman', serif" font-size="42.5" font-weight="bold" textLength="208" lengthAdjust="spacingAndGlyphs">3wt.% CoO</text>
<line x1="1772.5" y1="271.4" x2="1849.5" y2="271.4" stroke="#008080" stroke-width="8.5" stroke-linecap="round"/>
<text transform="translate(1858.9 269.1) scale(1 0.930)" x="0" y="15.80" font-family="'Liberation Serif', 'Noto Serif CJK SC', 'Noto Serif CJK JP', serif" font-size="40" font-weight="600" stroke="#000" stroke-width="0.55">④</text>
<text x="1900.8" y="284.2" font-family="'Liberation Serif', 'Times New Roman', serif" font-size="42.5" font-weight="bold" textLength="208" lengthAdjust="spacingAndGlyphs">5wt.% CoO</text>
<line x1="1772.5" y1="321.7" x2="1849.5" y2="321.7" stroke="#ff00ff" stroke-width="8.5" stroke-linecap="round"/>
<text transform="translate(1858.9 319.4) scale(1 0.930)" x="0" y="15.80" font-family="'Liberation Serif', 'Noto Serif CJK SC', 'Noto Serif CJK JP', serif" font-size="40" font-weight="600" stroke="#000" stroke-width="0.55">⑤</text>
<text x="1900.8" y="334.5" font-family="'Liberation Serif', 'Times New Roman', serif" font-size="42.5" font-weight="bold" textLength="208" lengthAdjust="spacingAndGlyphs">7wt.% CoO</text>
<text transform="translate(614.5 392.7) scale(1 0.960)" x="0" y="16.79" font-family="'Liberation Serif', 'Noto Serif CJK SC', 'Noto Serif CJK JP', serif" font-size="42.5" font-weight="600" stroke="#000" stroke-width="0.55">④</text>
<text x="658.5" y="407.8" font-family="'Liberation Serif', 'Times New Roman', serif" font-size="42">Tm=648.9<tspan font-size="36.5" dy="-18.8">o</tspan><tspan font-weight="bold" dy="18.8">C</tspan></text>
<text transform="translate(588.7 457.4) scale(1 0.960)" x="0" y="16.79" font-family="'Liberation Serif', 'Noto Serif CJK SC', 'Noto Serif CJK JP', serif" font-size="42.5" font-weight="600" stroke="#000" stroke-width="0.55">③</text>
<text x="631.5" y="472.5" font-family="'Liberation Serif', 'Times New Roman', serif" font-size="42">Tm=660.2<tspan font-size="36.5" dy="-18.8">o</tspan><tspan font-weight="bold" dy="18.8">C</tspan></text>
<text transform="translate(526.8 531.5) scale(1 0.960)" x="0" y="16.79" font-family="'Liberation Serif', 'Noto Serif CJK SC', 'Noto Serif CJK JP', serif" font-size="42.5" font-weight="600" stroke="#000" stroke-width="0.55">⑤</text>
<text x="570.4" y="546.6" font-family="'Liberation Serif', 'Times New Roman', serif" font-size="42">Tm=674.2<tspan font-size="36.5" dy="-18.8">o</tspan><tspan font-weight="bold" dy="18.8">C</tspan></text>
<text transform="translate(459.4 591.6) scale(1 0.960)" x="0" y="16.79" font-family="'Liberation Serif', 'Noto Serif CJK SC', 'Noto Serif CJK JP', serif" font-size="42.5" font-weight="600" stroke="#000" stroke-width="0.55">②</text>
<text x="503.8" y="606.7" font-family="'Liberation Serif', 'Times New Roman', serif" font-size="42">Tm=709.6<tspan font-size="36.5" dy="-18.8">o</tspan><tspan font-weight="bold" dy="18.8">C</tspan></text>
<text transform="translate(435.4 667.2) scale(1 0.960)" x="0" y="16.79" font-family="'Liberation Serif', 'Noto Serif CJK SC', 'Noto Serif CJK JP', serif" font-size="42.5" font-weight="600" stroke="#000" stroke-width="0.55">①</text>
<text x="480.2" y="682.3" font-family="'Liberation Serif', 'Times New Roman', serif" font-size="42">Tm=627.5<tspan font-size="36.5" dy="-18.8">o</tspan><tspan font-weight="bold" dy="18.8">C</tspan></text>
<text transform="translate(1876.5 381.3) scale(1 0.930)" x="0" y="16.00" font-family="'Liberation Serif', 'Noto Serif CJK SC', 'Noto Serif CJK JP', serif" font-size="40.5" font-weight="600" stroke="#000" stroke-width="0.55">②</text>
<text transform="translate(1885.4 454.2) scale(1 0.930)" x="0" y="16.00" font-family="'Liberation Serif', 'Noto Serif CJK SC', 'Noto Serif CJK JP', serif" font-size="40.5" font-weight="600" stroke="#000" stroke-width="0.55">①</text>
<text transform="translate(1859.6 507.3) scale(1 0.930)" x="0" y="16.00" font-family="'Liberation Serif', 'Noto Serif CJK SC', 'Noto Serif CJK JP', serif" font-size="40.5" font-weight="600" stroke="#000" stroke-width="0.55">③</text>
<text transform="translate(1828.4 551.1) scale(1 0.930)" x="0" y="16.00" font-family="'Liberation Serif', 'Noto Serif CJK SC', 'Noto Serif CJK JP', serif" font-size="40.5" font-weight="600" stroke="#000" stroke-width="0.55">⑤</text>
<text transform="translate(1752.7 611.2) scale(1 0.930)" x="0" y="16.00" font-family="'Liberation Serif', 'Noto Serif CJK SC', 'Noto Serif CJK JP', serif" font-size="40.5" font-weight="600" stroke="#000" stroke-width="0.55">④</text>
<line x1="879.8" y1="409.8" x2="956.8" y2="435.7" stroke="#111" stroke-width="1.4"/>
<path d="M973.4 441.3L953.3 440.0L956.6 430.2Z" fill="#000"/>
<line x1="864.0" y1="484.8" x2="1015.2" y2="543.0" stroke="#111" stroke-width="1.4"/>
<path d="M1031.5 549.3L1011.4 547.1L1015.2 537.4Z" fill="#000"/>
<line x1="799.0" y1="535.2" x2="1029.0" y2="620.6" stroke="#111" stroke-width="1.4"/>
<path d="M1045.4 626.7L1025.3 624.8L1028.9 615.0Z" fill="#000"/>
<line x1="725.0" y1="603.0" x2="1111.5" y2="701.9" stroke="#111" stroke-width="1.4"/>
<path d="M1128.5 706.2L1108.3 706.4L1110.9 696.3Z" fill="#000"/>
<line x1="704.0" y1="669.0" x2="992.9" y2="713.2" stroke="#111" stroke-width="1.4"/>
<path d="M1010.2 715.8L990.1 718.0L991.7 707.7Z" fill="#000"/>
<line x1="1927.7" y1="390.1" x2="2038.2" y2="416.9" stroke="#111" stroke-width="1.4"/>
<path d="M2055.2 421.0L2035.0 421.5L2037.5 411.4Z" fill="#000"/>
<line x1="1929.0" y1="464.2" x2="2282.5" y2="483.4" stroke="#111" stroke-width="1.4"/>
<path d="M2300.0 484.3L2280.2 488.4L2280.8 478.1Z" fill="#000"/>
<line x1="1898.3" y1="517.6" x2="2141.1" y2="631.9" stroke="#111" stroke-width="1.4"/>
<path d="M2156.9 639.4L2137.0 635.8L2141.5 626.4Z" fill="#000"/>
<line x1="1873.1" y1="563.8" x2="2118.1" y2="677.7" stroke="#111" stroke-width="1.4"/>
<path d="M2134.0 685.1L2114.1 681.6L2118.5 672.2Z" fill="#000"/>
<line x1="1794.4" y1="617.3" x2="2118.3" y2="706.9" stroke="#111" stroke-width="1.4"/>
<path d="M2135.2 711.6L2115.0 711.4L2117.8 701.4Z" fill="#000"/>
</svg>
</body></html>
